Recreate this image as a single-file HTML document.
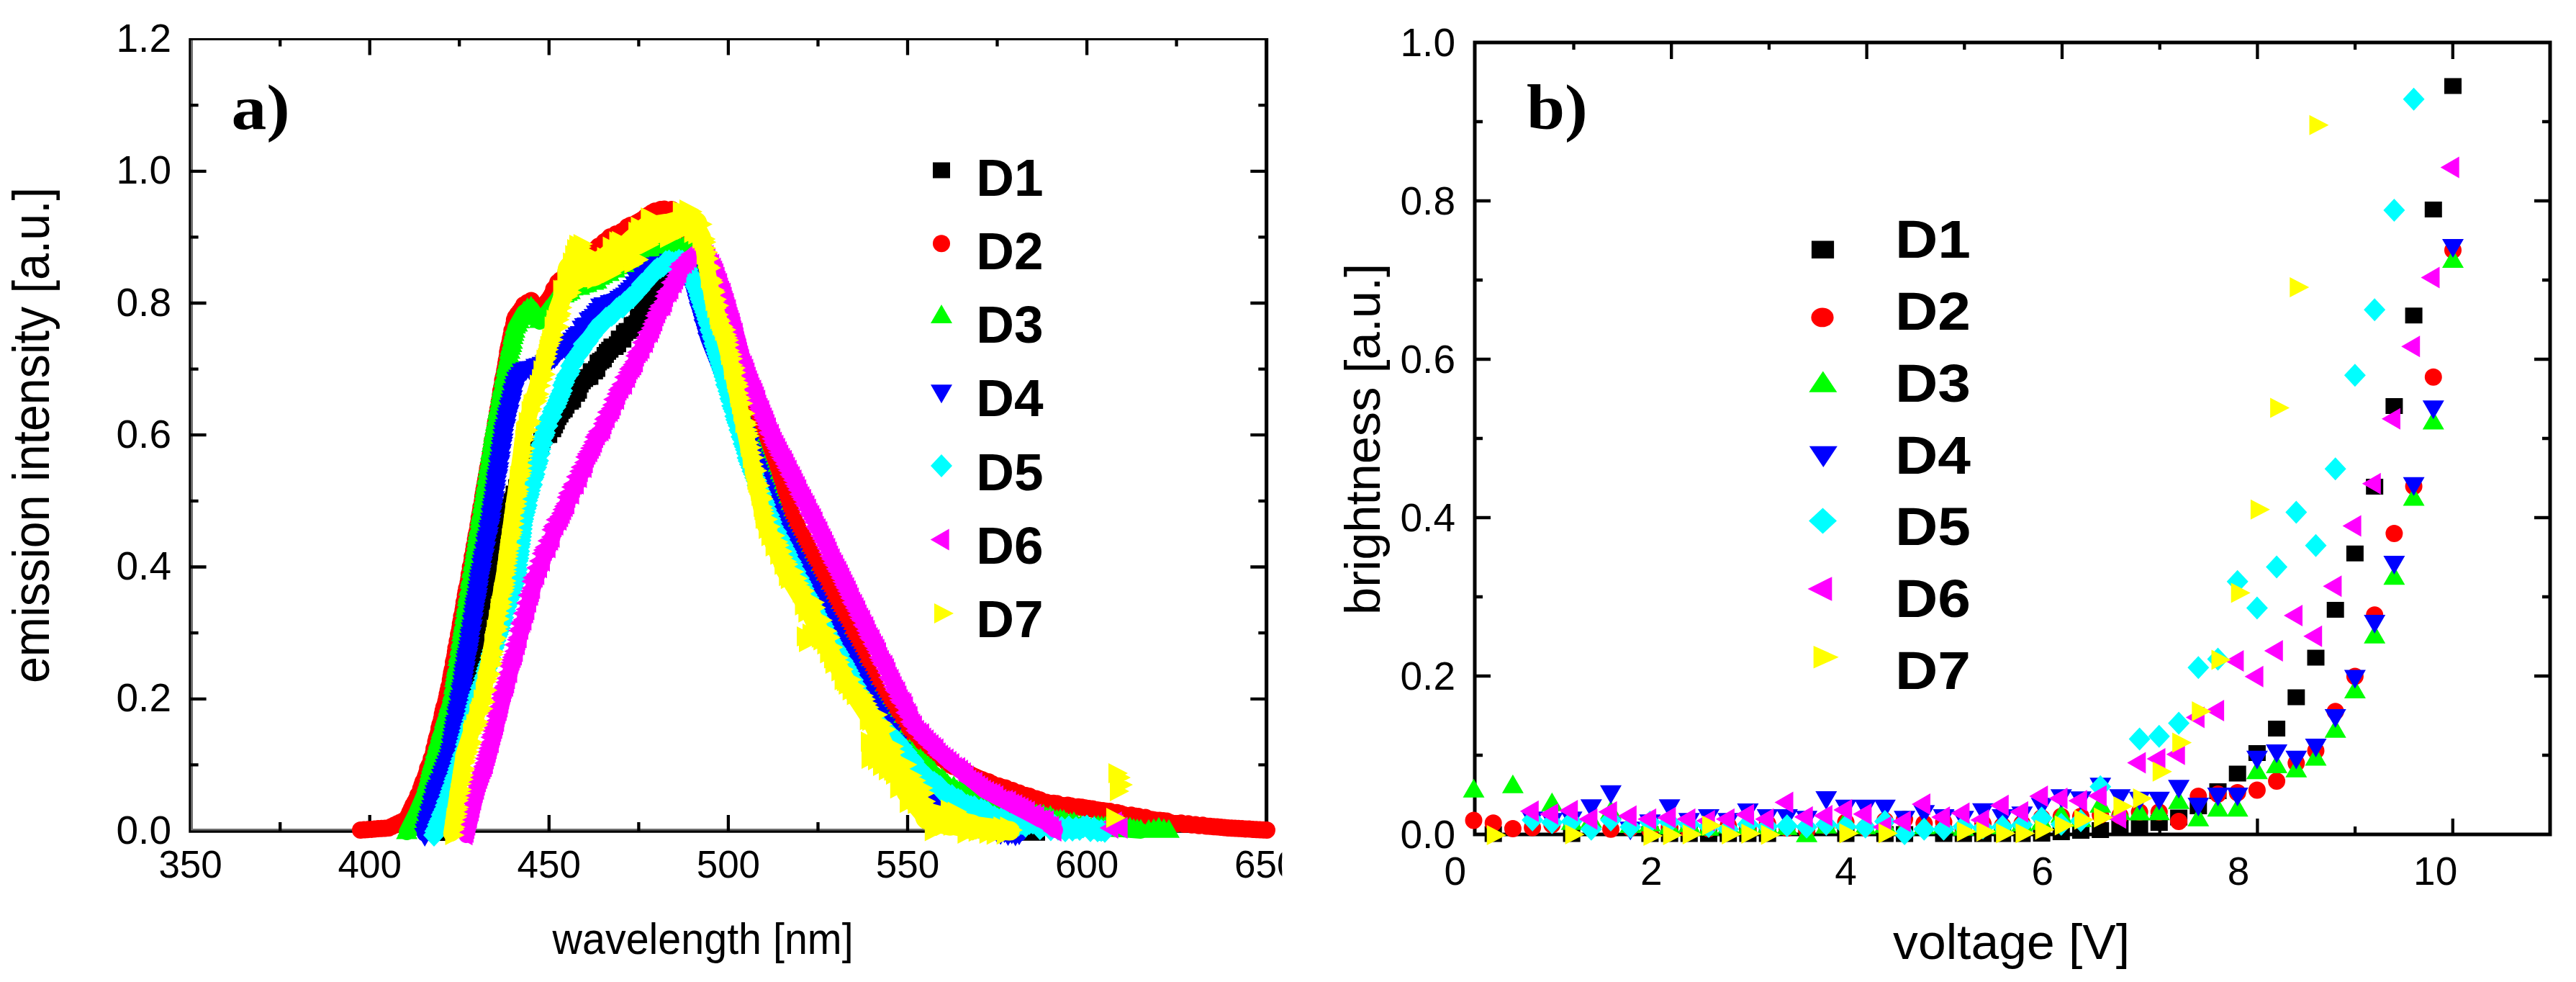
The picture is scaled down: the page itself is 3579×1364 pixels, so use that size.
<!DOCTYPE html><html><head><meta charset="utf-8"><style>html,body{margin:0;padding:0;background:#fff}svg{display:block}text{font-family:"Liberation Sans",sans-serif;fill:#000}.s{font-family:"Liberation Serif",serif;font-weight:bold}.b{font-weight:bold}</style></head><body>
<svg width="3579" height="1364" viewBox="0 0 3579 1364">
<rect width="3579" height="1364" fill="#fff"/>
<defs><clipPath id="ca"><rect x="0" y="0" width="1781.3" height="1364"/></clipPath></defs>
<g clip-path="url(#ca)">
<path d="M262.3 53.1H1762.2V1156.7H262.3zM268 56H1757V1150.9H268z" fill="#000" fill-rule="evenodd"/>
<path d="M265.1 56H268V1150.9H1757V1153.6H265.1z" fill="#707070"/>
<path d="M389.2 1154.0v-12M389.2 54.5v10M513.7 1154.0v-22M513.7 54.5v22M638.2 1154.0v-12M638.2 54.5v10M762.8 1154.0v-22M762.8 54.5v22M887.4 1154.0v-12M887.4 54.5v10M1011.9 1154.0v-22M1011.9 54.5v22M1136.5 1154.0v-12M1136.5 54.5v10M1261 1154.0v-22M1261 54.5v22M1385.5 1154.0v-12M1385.5 54.5v10M1510.1 1154.0v-22M1510.1 54.5v22M1634.6 1154.0v-12M1634.6 54.5v10M264.6 1062.4h11M1759.3 1062.4h-11M264.6 970.8h22M1759.3 970.8h-22M264.6 879.1h11M1759.3 879.1h-11M264.6 787.5h22M1759.3 787.5h-22M264.6 695.9h11M1759.3 695.9h-11M264.6 604.2h22M1759.3 604.2h-22M264.6 512.6h11M1759.3 512.6h-11M264.6 421h22M1759.3 421h-22M264.6 329.4h11M1759.3 329.4h-11M264.6 237.8h22M1759.3 237.8h-22M264.6 146.1h11M1759.3 146.1h-11" stroke="#000" stroke-width="4.3" fill="none"/>
<text x="264.6" y="1218.5" font-size="53" text-anchor="middle">350</text>
<text x="513.7" y="1218.5" font-size="53" text-anchor="middle">400</text>
<text x="762.8" y="1218.5" font-size="53" text-anchor="middle">450</text>
<text x="1011.9" y="1218.5" font-size="53" text-anchor="middle">500</text>
<text x="1261" y="1218.5" font-size="53" text-anchor="middle">550</text>
<text x="1510.1" y="1218.5" font-size="53" text-anchor="middle">600</text>
<text x="1759.2" y="1218.5" font-size="53" text-anchor="middle">650</text>
<text x="238" y="1171.5" font-size="55" text-anchor="end">0.0</text>
<text x="238" y="988.2" font-size="55" text-anchor="end">0.2</text>
<text x="238" y="805" font-size="55" text-anchor="end">0.4</text>
<text x="238" y="621.7" font-size="55" text-anchor="end">0.6</text>
<text x="238" y="438.5" font-size="55" text-anchor="end">0.8</text>
<text x="238" y="255.2" font-size="55" text-anchor="end">1.0</text>
<text x="238" y="72" font-size="55" text-anchor="end">1.2</text>
<text x="976.6" y="1325.3" font-size="62" text-anchor="middle" textLength="418" lengthAdjust="spacingAndGlyphs">wavelength [nm]</text>
<text transform="translate(67.5,604.5) rotate(-90)" font-size="72" text-anchor="middle" textLength="689" lengthAdjust="spacingAndGlyphs">emission intensity [a.u.]</text>
<text class="s" transform="translate(321.5,179) scale(1.11,1)" font-size="88">a)</text>
<polyline points="618,1156 628,1110 640,1050 650,1000 668,918 688,800 703,720 722,670 745,625 770,590 803,540 854,480 879,454 905,420 930,385 952,366 968,395 990,470 1030,565 1060,640 1088,726 1148,845 1200,945 1240,1020 1290,1100 1340,1138 1400,1152 1440,1156" fill="none" stroke="#000" stroke-width="22" stroke-linejoin="round" stroke-linecap="round"/>
<path d="M606.2 1146h24v22h-24zM607.3 1140.7h24v22h-24zM608 1133.9h24v22h-24zM609.2 1129.1h24v22h-24zM610.2 1123.6h24v22h-24zM611.5 1119.3h24v22h-24zM612.8 1114.9h24v22h-24zM613.7 1109h24v22h-24zM614.9 1104.3h24v22h-24zM615.8 1098h24v22h-24zM616.8 1093.3h24v22h-24zM618 1089.2h24v22h-24zM619 1083.8h24v22h-24zM619.9 1078.5h24v22h-24zM620.8 1073.3h24v22h-24zM622.2 1069.7h24v22h-24zM622.9 1063.7h24v22h-24zM623.9 1058.4h24v22h-24zM624.8 1053.3h24v22h-24zM625.8 1048.3h24v22h-24zM627.2 1044.9h24v22h-24zM628.2 1039.7h24v22h-24zM629.1 1034.5h24v22h-24zM629.8 1028.1h24v22h-24zM630.9 1023.8h24v22h-24zM632.2 1019.7h24v22h-24zM633.2 1014.8h24v22h-24zM634.2 1009.7h24v22h-24zM634.9 1003.7h24v22h-24zM636.1 999.3h24v22h-24zM637.1 994.3h24v22h-24zM638.1 989.6h24v22h-24zM638.9 983.3h24v22h-24zM640.2 979.9h24v22h-24zM641.4 975.3h24v22h-24zM642.3 969.9h24v22h-24zM643.1 963.9h24v22h-24zM644.5 960.9h24v22h-24zM645.4 955h24v22h-24zM646.7 951.2h24v22h-24zM647.6 946.1h24v22h-24zM648.8 941.7h24v22h-24zM649.7 936h24v22h-24zM650.8 931.7h24v22h-24zM651.6 925.6h24v22h-24zM652.6 920.6h24v22h-24zM653.7 915.8h24v22h-24zM655.1 912.4h24v22h-24zM656.1 907.2h24v22h-24zM657 902.7h24v22h-24zM657.9 898.1h24v22h-24zM658.7 893.2h24v22h-24zM659.5 888.1h24v22h-24zM660.4 883.2h24v22h-24zM661.2 878.5h24v22h-24zM661.8 872.4h24v22h-24zM662.6 867.3h24v22h-24zM663.5 862.7h24v22h-24zM664.2 857.4h24v22h-24zM665.1 852.6h24v22h-24zM666.2 848.7h24v22h-24zM667.1 844.1h24v22h-24zM667.5 837.5h24v22h-24zM668.6 833.8h24v22h-24zM669.4 828.6h24v22h-24zM670.2 823.6h24v22h-24zM670.8 817.5h24v22h-24zM671.9 813.9h24v22h-24zM672.8 809.4h24v22h-24zM673.5 803.7h24v22h-24zM674.2 798.1h24v22h-24zM675.4 794.7h24v22h-24zM675.8 788.1h24v22h-24zM677 784.3h24v22h-24zM678.1 780.1h24v22h-24zM679 774.8h24v22h-24zM679.5 767.9h24v22h-24zM680.9 764.8h24v22h-24zM681.7 759.3h24v22h-24zM682.3 752.8h24v22h-24zM683.7 750h24v22h-24zM684.2 742.9h24v22h-24zM685 737.4h24v22h-24zM686.4 734.5h24v22h-24zM686.9 727.5h24v22h-24zM688.6 725.8h24v22h-24zM688.8 717.5h24v22h-24zM690.4 715.3h24v22h-24zM690.7 707.9h24v22h-24zM692.4 703h24v22h-24zM694.8 701.6h24v22h-24zM695.7 693.4h24v22h-24zM698.4 692.8h24v22h-24zM699.4 685.3h24v22h-24zM701.7 683.1h24v22h-24zM702.5 674.6h24v22h-24zM705.2 674.4h24v22h-24zM706 665.8h24v22h-24zM708.7 665.3h24v22h-24zM710.6 661.9h24v22h-24zM712.4 655.2h24v22h-24zM714.3 648.8h24v22h-24zM716.6 643.9h24v22h-24zM719.7 643.3h24v22h-24zM721.1 634.6h24v22h-24zM724.4 634.6h24v22h-24zM725.5 624.8h24v22h-24zM727.8 620.2h24v22h-24zM730.3 616.6h24v22h-24zM732.6 612.2h24v22h-24zM735.9 610.8h24v22h-24zM738.9 608.1h24v22h-24zM740.8 599.9h24v22h-24zM743.5 595.5h24v22h-24zM746.7 593.6h24v22h-24zM750.2 593.3h24v22h-24zM752 584.5h24v22h-24zM755.7 585.2h24v22h-24zM758.2 580h24v22h-24zM760.7 574.5h24v22h-24zM763.1 568.6h24v22h-24zM765.9 564.7h24v22h-24zM768.4 559.7h24v22h-24zM771.7 557.8h24v22h-24zM774.2 552.6h24v22h-24zM776.7 547.3h24v22h-24zM780.3 547h24v22h-24zM783.3 544.2h24v22h-24zM784.9 534.5h24v22h-24zM788.8 536h24v22h-24zM791.5 531.7h24v22h-24zM793.8 523.2h24v22h-24zM796.8 518.7h24v22h-24zM800.1 515.5h24v22h-24zM803.6 513h24v22h-24zM807.4 512.5h24v22h-24zM809.7 504.4h24v22h-24zM813.8 505.1h24v22h-24zM817 501.6h24v22h-24zM819.2 492.5h24v22h-24zM822.6 490.2h24v22h-24zM826.1 488.2h24v22h-24zM828.9 482h24v22h-24zM832 477.7h24v22h-24zM835.3 474.7h24v22h-24zM838.4 470.3h24v22h-24zM842.4 471h24v22h-24zM845.9 467.3h24v22h-24zM848.7 459.2h24v22h-24zM853.2 460.7h24v22h-24zM855.8 451.4h24v22h-24zM859.5 448.7h24v22h-24zM863.8 448.6h24v22h-24zM866.5 440.6h24v22h-24zM870 439.8h24v22h-24zM873.3 438h24v22h-24zM875.1 428.8h24v22h-24zM878.7 428.8h24v22h-24zM880.9 421.2h24v22h-24zM883.8 417.8h24v22h-24zM886.9 414.8h24v22h-24zM890.3 413.8h24v22h-24zM892.8 408h24v22h-24zM896.4 408.1h24v22h-24zM898.9 402.8h24v22h-24zM901 395.7h24v22h-24zM903.6 391h24v22h-24zM906.6 388h24v22h-24zM910 387.5h24v22h-24zM912.1 380.1h24v22h-24zM915.6 379.9h24v22h-24zM917.9 373.2h24v22h-24zM921.2 368h24v22h-24zM925.2 367.1h24v22h-24zM929.1 364.9h24v22h-24zM932.5 360.3h24v22h-24zM936 356.2h24v22h-24zM939.7 356.2h24v22h-24zM941.9 360.8h24v22h-24zM944.8 362.4h24v22h-24zM947.1 366.2h24v22h-24zM949.3 370.7h24v22h-24zM951.8 374.2h24v22h-24zM953.6 380.3h24v22h-24zM956.1 383.6h24v22h-24zM957.7 387.4h24v22h-24zM958.3 395.4h24v22h-24zM959.7 400h24v22h-24zM961.1 404.3h24v22h-24zM963.2 406.1h24v22h-24zM964.7 410.2h24v22h-24zM965.8 415.9h24v22h-24zM967.2 420.7h24v22h-24zM968 427.7h24v22h-24zM970 429.9h24v22h-24zM971.3 434.6h24v22h-24zM973 438.3h24v22h-24zM973.9 444.8h24v22h-24zM975.6 448.3h24v22h-24zM977.1 452.4h24v22h-24zM978.4 457.4h24v22h-24zM979.5 465.1h24v22h-24zM981.4 470h24v22h-24zM983.3 474.2h24v22h-24zM985.9 476h24v22h-24zM987.8 480.5h24v22h-24zM989 488.1h24v22h-24zM991.4 490.5h24v22h-24zM993 496.4h24v22h-24zM995.2 499.3h24v22h-24zM996.6 506.1h24v22h-24zM998.6 510.2h24v22h-24zM1000.8 513.6h24v22h-24zM1002.9 517.1h24v22h-24zM1004.7 522.4h24v22h-24zM1006.1 528.8h24v22h-24zM1008.3 532.2h24v22h-24zM1010.2 536.7h24v22h-24zM1012.3 540.4h24v22h-24zM1014.1 545.4h24v22h-24zM1015.8 550.8h24v22h-24zM1018.2 553.1h24v22h-24zM1020 558.2h24v22h-24zM1021.9 562.8h24v22h-24zM1023.9 566.9h24v22h-24zM1025.3 573.7h24v22h-24zM1027.5 577h24v22h-24zM1029.6 580.6h24v22h-24zM1030.7 588.5h24v22h-24zM1032.9 592.1h24v22h-24zM1034.9 595.9h24v22h-24zM1036.4 602.5h24v22h-24zM1039.1 603.7h24v22h-24zM1040.9 608.5h24v22h-24zM1042.5 614.5h24v22h-24zM1044.4 619h24v22h-24zM1045.7 626.3h24v22h-24zM1047.6 630.8h24v22h-24zM1049.9 632.3h24v22h-24zM1051.4 637.3h24v22h-24zM1053 642.1h24v22h-24zM1054.6 646.4h24v22h-24zM1056.1 651.3h24v22h-24zM1057.7 656h24v22h-24zM1058.7 663.3h24v22h-24zM1060.9 665.4h24v22h-24zM1062.4 670.3h24v22h-24zM1063.8 675.9h24v22h-24zM1064.8 682.9h24v22h-24zM1066.6 686.8h24v22h-24zM1067.8 692.8h24v22h-24zM1069.9 695.5h24v22h-24zM1071.6 699.6h24v22h-24zM1072.5 706.9h24v22h-24zM1074.5 710.1h24v22h-24zM1076.3 713.7h24v22h-24zM1078.6 717.8h24v22h-24zM1080.2 724.8h24v22h-24zM1082.4 729.5h24v22h-24zM1084.5 734.3h24v22h-24zM1087.3 736h24v22h-24zM1089.8 739.5h24v22h-24zM1091.8 744.9h24v22h-24zM1094.2 748.5h24v22h-24zM1095.6 756.7h24v22h-24zM1098 759.9h24v22h-24zM1100.5 763.1h24v22h-24zM1102.8 767.3h24v22h-24zM1104.5 774.2h24v22h-24zM1107.4 775.2h24v22h-24zM1108.9 783h24v22h-24zM1111.4 786.3h24v22h-24zM1113.5 791.1h24v22h-24zM1116 794.3h24v22h-24zM1117.9 800.3h24v22h-24zM1120.2 804.1h24v22h-24zM1122.9 806.4h24v22h-24zM1124.7 813h24v22h-24zM1127.1 816.4h24v22h-24zM1128.9 822.6h24v22h-24zM1132 823.3h24v22h-24zM1134.1 828h24v22h-24zM1135.8 834.9h24v22h-24zM1138.5 837.2h24v22h-24zM1140.8 841.6h24v22h-24zM1142.4 848.7h24v22h-24zM1145.3 850.5h24v22h-24zM1147.7 853.9h24v22h-24zM1149.2 861.6h24v22h-24zM1152 863.6h24v22h-24zM1153.8 870h24v22h-24zM1156.2 873.9h24v22h-24zM1158.2 879.2h24v22h-24zM1160.5 883.7h24v22h-24zM1162.7 888.1h24v22h-24zM1165.8 888.9h24v22h-24zM1168.1 893h24v22h-24zM1169.6 900.5h24v22h-24zM1172.5 902h24v22h-24zM1174.1 909.2h24v22h-24zM1176.8 911.6h24v22h-24zM1178.7 917.7h24v22h-24zM1181 921.8h24v22h-24zM1183.2 926.5h24v22h-24zM1186 928.7h24v22h-24zM1187.9 934.6h24v22h-24zM1190.4 938h24v22h-24zM1192.4 944.3h24v22h-24zM1194.6 949.3h24v22h-24zM1197.1 953h24v22h-24zM1200 955.1h24v22h-24zM1202.4 959.2h24v22h-24zM1204.7 963.7h24v22h-24zM1206.6 970.4h24v22h-24zM1209.7 971.4h24v22h-24zM1211.2 979.6h24v22h-24zM1214.2 981.1h24v22h-24zM1215.7 989.2h24v22h-24zM1218.3 992.6h24v22h-24zM1220.8 996.6h24v22h-24zM1223.4 999.5h24v22h-24zM1226 1002.9h24v22h-24zM1227.6 1010.8h24v22h-24zM1230.1 1015.9h24v22h-24zM1233.4 1016.6h24v22h-24zM1235.4 1024.1h24v22h-24zM1237.9 1028.8h24v22h-24zM1241.2 1030.1h24v22h-24zM1243.2 1037.1h24v22h-24zM1245.8 1041.4h24v22h-24zM1249.6 1040.1h24v22h-24zM1251.9 1045.9h24v22h-24zM1254.9 1048.2h24v22h-24zM1256.8 1056h24v22h-24zM1259.6 1059.5h24v22h-24zM1262.5 1062.5h24v22h-24zM1265.3 1065.6h24v22h-24zM1266.9 1075.1h24v22h-24zM1269.7 1078.4h24v22h-24zM1272.2 1083h24v22h-24zM1275.5 1084h24v22h-24zM1277.7 1091h24v22h-24zM1282.1 1090.2h24v22h-24zM1286.1 1092.2h24v22h-24zM1289.6 1097.6h24v22h-24zM1292.9 1103.7h24v22h-24zM1296.8 1106.5h24v22h-24zM1301.4 1104.6h24v22h-24zM1305.2 1107.4h24v22h-24zM1309.2 1109.5h24v22h-24zM1312.5 1115.8h24v22h-24zM1316.8 1116.3h24v22h-24zM1320.2 1121.8h24v22h-24zM1324.5 1121.7h24v22h-24zM1327.9 1128.2h24v22h-24zM1333.1 1125.8h24v22h-24zM1337.9 1130.9h24v22h-24zM1342.9 1131.5h24v22h-24zM1347.9 1133.9h24v22h-24zM1353.1 1131.8h24v22h-24zM1358.1 1132.8h24v22h-24zM1363.1 1134.2h24v22h-24zM1368.1 1135.3h24v22h-24zM1373 1138.1h24v22h-24zM1377.9 1140.3h24v22h-24zM1383.1 1138.5h24v22h-24zM1388 1139.1h24v22h-24zM1393 1139.6h24v22h-24zM1398 1141.2h24v22h-24zM1403 1141.3h24v22h-24zM1408 1142.3h24v22h-24zM1413 1145.4h24v22h-24zM1418 1145.7h24v22h-24zM1423 1142.6h24v22h-24zM1428 1145.7h24v22h-24z" fill="#000"/>
<polyline points="501,1153 540,1150 565,1138 583,1100 601,1050 625,950 666,720 707,480 716,440 728,424 738,418 750,439 772,398 800,368 848,331 880,311 898,301 918,290.5 933,292 946,301 958,330 971,400 1012,500 1050,600 1078,660 1105,726 1168,845 1222,966 1270,1020 1320,1062 1378,1089 1454,1115 1542,1128 1631,1143 1706,1150 1760,1153" fill="none" stroke="#f00" stroke-width="22" stroke-linejoin="round" stroke-linecap="round"/>
<path d="M489 1153a12 12 0 1 0 24 0a12 12 0 1 0 -24 0zM493.9 1152.6a12 12 0 1 0 24 0a12 12 0 1 0 -24 0zM498.8 1152.2a12 12 0 1 0 24 0a12 12 0 1 0 -24 0zM503.6 1151.9a12 12 0 1 0 24 0a12 12 0 1 0 -24 0zM508.5 1151.5a12 12 0 1 0 24 0a12 12 0 1 0 -24 0zM513.4 1151.1a12 12 0 1 0 24 0a12 12 0 1 0 -24 0zM518.2 1150.8a12 12 0 1 0 24 0a12 12 0 1 0 -24 0zM523.1 1150.4a12 12 0 1 0 24 0a12 12 0 1 0 -24 0zM528 1150a12 12 0 1 0 24 0a12 12 0 1 0 -24 0zM532.2 1148a12 12 0 1 0 24 0a12 12 0 1 0 -24 0zM536.3 1146a12 12 0 1 0 24 0a12 12 0 1 0 -24 0zM540.5 1144a12 12 0 1 0 24 0a12 12 0 1 0 -24 0zM544.7 1142a12 12 0 1 0 24 0a12 12 0 1 0 -24 0zM548.8 1140a12 12 0 1 0 24 0a12 12 0 1 0 -24 0zM553 1138a12 12 0 1 0 24 0a12 12 0 1 0 -24 0zM555.3 1133.3a12 12 0 1 0 24 0a12 12 0 1 0 -24 0zM557.5 1128.3a12 12 0 1 0 24 0a12 12 0 1 0 -24 0zM559.7 1123.6a12 12 0 1 0 24 0a12 12 0 1 0 -24 0zM561.9 1118.5a12 12 0 1 0 24 0a12 12 0 1 0 -24 0zM564.3 1114.6a12 12 0 1 0 24 0a12 12 0 1 0 -24 0zM566.7 1110.2a12 12 0 1 0 24 0a12 12 0 1 0 -24 0zM568.7 1104.4a12 12 0 1 0 24 0a12 12 0 1 0 -24 0zM571.2 1101a12 12 0 1 0 24 0a12 12 0 1 0 -24 0zM572.6 1095.5a12 12 0 1 0 24 0a12 12 0 1 0 -24 0zM574.2 1090.8a12 12 0 1 0 24 0a12 12 0 1 0 -24 0zM575.8 1086.1a12 12 0 1 0 24 0a12 12 0 1 0 -24 0zM577.8 1082.8a12 12 0 1 0 24 0a12 12 0 1 0 -24 0zM579.4 1078.1a12 12 0 1 0 24 0a12 12 0 1 0 -24 0zM581 1073.6a12 12 0 1 0 24 0a12 12 0 1 0 -24 0zM582.2 1067.2a12 12 0 1 0 24 0a12 12 0 1 0 -24 0zM584.1 1063.6a12 12 0 1 0 24 0a12 12 0 1 0 -24 0zM585.9 1060a12 12 0 1 0 24 0a12 12 0 1 0 -24 0zM587.2 1053.8a12 12 0 1 0 24 0a12 12 0 1 0 -24 0zM589.2 1050.9a12 12 0 1 0 24 0a12 12 0 1 0 -24 0zM590.3 1045.8a12 12 0 1 0 24 0a12 12 0 1 0 -24 0zM591.1 1039.8a12 12 0 1 0 24 0a12 12 0 1 0 -24 0zM592.6 1036.6a12 12 0 1 0 24 0a12 12 0 1 0 -24 0zM593.4 1030.4a12 12 0 1 0 24 0a12 12 0 1 0 -24 0zM594.6 1025.5a12 12 0 1 0 24 0a12 12 0 1 0 -24 0zM595.9 1021.8a12 12 0 1 0 24 0a12 12 0 1 0 -24 0zM597.2 1017.6a12 12 0 1 0 24 0a12 12 0 1 0 -24 0zM598 1011.5a12 12 0 1 0 24 0a12 12 0 1 0 -24 0zM599.2 1006.8a12 12 0 1 0 24 0a12 12 0 1 0 -24 0zM600.6 1003a12 12 0 1 0 24 0a12 12 0 1 0 -24 0zM601.7 998a12 12 0 1 0 24 0a12 12 0 1 0 -24 0zM602.6 992.3a12 12 0 1 0 24 0a12 12 0 1 0 -24 0zM603.7 987.3a12 12 0 1 0 24 0a12 12 0 1 0 -24 0zM604.8 982.5a12 12 0 1 0 24 0a12 12 0 1 0 -24 0zM606.3 979.1a12 12 0 1 0 24 0a12 12 0 1 0 -24 0zM607.4 974.4a12 12 0 1 0 24 0a12 12 0 1 0 -24 0zM608.5 969.4a12 12 0 1 0 24 0a12 12 0 1 0 -24 0zM609.5 963.9a12 12 0 1 0 24 0a12 12 0 1 0 -24 0zM610.6 959.2a12 12 0 1 0 24 0a12 12 0 1 0 -24 0zM611.7 954.3a12 12 0 1 0 24 0a12 12 0 1 0 -24 0zM613.1 950.4a12 12 0 1 0 24 0a12 12 0 1 0 -24 0zM613.7 944.4a12 12 0 1 0 24 0a12 12 0 1 0 -24 0zM614.6 939.4a12 12 0 1 0 24 0a12 12 0 1 0 -24 0zM615.4 934.5a12 12 0 1 0 24 0a12 12 0 1 0 -24 0zM616.4 930.2a12 12 0 1 0 24 0a12 12 0 1 0 -24 0zM617.6 926.5a12 12 0 1 0 24 0a12 12 0 1 0 -24 0zM618 919.7a12 12 0 1 0 24 0a12 12 0 1 0 -24 0zM619.1 915.9a12 12 0 1 0 24 0a12 12 0 1 0 -24 0zM620.1 911.3a12 12 0 1 0 24 0a12 12 0 1 0 -24 0zM620.8 905.6a12 12 0 1 0 24 0a12 12 0 1 0 -24 0zM621.5 900.1a12 12 0 1 0 24 0a12 12 0 1 0 -24 0zM622.8 896.8a12 12 0 1 0 24 0a12 12 0 1 0 -24 0zM623.3 890.7a12 12 0 1 0 24 0a12 12 0 1 0 -24 0zM624.6 887.2a12 12 0 1 0 24 0a12 12 0 1 0 -24 0zM625.1 881.2a12 12 0 1 0 24 0a12 12 0 1 0 -24 0zM626.2 877a12 12 0 1 0 24 0a12 12 0 1 0 -24 0zM627.1 872.2a12 12 0 1 0 24 0a12 12 0 1 0 -24 0zM627.7 866.4a12 12 0 1 0 24 0a12 12 0 1 0 -24 0zM628.7 862.1a12 12 0 1 0 24 0a12 12 0 1 0 -24 0zM629.4 856.1a12 12 0 1 0 24 0a12 12 0 1 0 -24 0zM630.6 852.7a12 12 0 1 0 24 0a12 12 0 1 0 -24 0zM631.4 847.6a12 12 0 1 0 24 0a12 12 0 1 0 -24 0zM632.2 842.6a12 12 0 1 0 24 0a12 12 0 1 0 -24 0zM632.8 836.6a12 12 0 1 0 24 0a12 12 0 1 0 -24 0zM634 832.7a12 12 0 1 0 24 0a12 12 0 1 0 -24 0zM634.6 826.8a12 12 0 1 0 24 0a12 12 0 1 0 -24 0zM635.5 822a12 12 0 1 0 24 0a12 12 0 1 0 -24 0zM636.4 817.1a12 12 0 1 0 24 0a12 12 0 1 0 -24 0zM637.6 813.8a12 12 0 1 0 24 0a12 12 0 1 0 -24 0zM638.5 809.1a12 12 0 1 0 24 0a12 12 0 1 0 -24 0zM639.3 803.8a12 12 0 1 0 24 0a12 12 0 1 0 -24 0zM639.9 797.8a12 12 0 1 0 24 0a12 12 0 1 0 -24 0zM641.1 794a12 12 0 1 0 24 0a12 12 0 1 0 -24 0zM641.6 787.6a12 12 0 1 0 24 0a12 12 0 1 0 -24 0zM642.8 784.4a12 12 0 1 0 24 0a12 12 0 1 0 -24 0zM643.7 779.5a12 12 0 1 0 24 0a12 12 0 1 0 -24 0zM644.2 772.9a12 12 0 1 0 24 0a12 12 0 1 0 -24 0zM645.5 769.9a12 12 0 1 0 24 0a12 12 0 1 0 -24 0zM646.2 764.3a12 12 0 1 0 24 0a12 12 0 1 0 -24 0zM646.9 758.6a12 12 0 1 0 24 0a12 12 0 1 0 -24 0zM648 754.9a12 12 0 1 0 24 0a12 12 0 1 0 -24 0zM648.7 749.1a12 12 0 1 0 24 0a12 12 0 1 0 -24 0zM649.5 743.8a12 12 0 1 0 24 0a12 12 0 1 0 -24 0zM650.6 739.8a12 12 0 1 0 24 0a12 12 0 1 0 -24 0zM651.6 735.5a12 12 0 1 0 24 0a12 12 0 1 0 -24 0zM652.2 729.5a12 12 0 1 0 24 0a12 12 0 1 0 -24 0zM653.2 725.2a12 12 0 1 0 24 0a12 12 0 1 0 -24 0zM653.8 719a12 12 0 1 0 24 0a12 12 0 1 0 -24 0zM654.7 714.5a12 12 0 1 0 24 0a12 12 0 1 0 -24 0zM655.6 709.7a12 12 0 1 0 24 0a12 12 0 1 0 -24 0zM656.3 704.3a12 12 0 1 0 24 0a12 12 0 1 0 -24 0zM657.5 700.9a12 12 0 1 0 24 0a12 12 0 1 0 -24 0zM658.2 695.7a12 12 0 1 0 24 0a12 12 0 1 0 -24 0zM658.8 689.8a12 12 0 1 0 24 0a12 12 0 1 0 -24 0zM659.7 685a12 12 0 1 0 24 0a12 12 0 1 0 -24 0zM660.5 679.9a12 12 0 1 0 24 0a12 12 0 1 0 -24 0zM661.4 675.2a12 12 0 1 0 24 0a12 12 0 1 0 -24 0zM662.2 670.4a12 12 0 1 0 24 0a12 12 0 1 0 -24 0zM663.1 665.6a12 12 0 1 0 24 0a12 12 0 1 0 -24 0zM664 660.9a12 12 0 1 0 24 0a12 12 0 1 0 -24 0zM664.8 656.2a12 12 0 1 0 24 0a12 12 0 1 0 -24 0zM665.5 650.6a12 12 0 1 0 24 0a12 12 0 1 0 -24 0zM666.6 646.8a12 12 0 1 0 24 0a12 12 0 1 0 -24 0zM667.6 642.3a12 12 0 1 0 24 0a12 12 0 1 0 -24 0zM668.4 637.5a12 12 0 1 0 24 0a12 12 0 1 0 -24 0zM669.2 632.6a12 12 0 1 0 24 0a12 12 0 1 0 -24 0zM670 627.5a12 12 0 1 0 24 0a12 12 0 1 0 -24 0zM670.9 622.7a12 12 0 1 0 24 0a12 12 0 1 0 -24 0zM671.7 617.5a12 12 0 1 0 24 0a12 12 0 1 0 -24 0zM672.2 611.5a12 12 0 1 0 24 0a12 12 0 1 0 -24 0zM673.4 608a12 12 0 1 0 24 0a12 12 0 1 0 -24 0zM674.3 603.3a12 12 0 1 0 24 0a12 12 0 1 0 -24 0zM675.1 598.4a12 12 0 1 0 24 0a12 12 0 1 0 -24 0zM675.9 593.2a12 12 0 1 0 24 0a12 12 0 1 0 -24 0zM676.5 587.5a12 12 0 1 0 24 0a12 12 0 1 0 -24 0zM677.6 583.4a12 12 0 1 0 24 0a12 12 0 1 0 -24 0zM678.4 578.6a12 12 0 1 0 24 0a12 12 0 1 0 -24 0zM679.1 572.9a12 12 0 1 0 24 0a12 12 0 1 0 -24 0zM679.9 567.9a12 12 0 1 0 24 0a12 12 0 1 0 -24 0zM681 564.1a12 12 0 1 0 24 0a12 12 0 1 0 -24 0zM681.6 558.2a12 12 0 1 0 24 0a12 12 0 1 0 -24 0zM682.6 554.2a12 12 0 1 0 24 0a12 12 0 1 0 -24 0zM683.3 548.5a12 12 0 1 0 24 0a12 12 0 1 0 -24 0zM683.9 542.7a12 12 0 1 0 24 0a12 12 0 1 0 -24 0zM684.9 538.4a12 12 0 1 0 24 0a12 12 0 1 0 -24 0zM685.9 534.4a12 12 0 1 0 24 0a12 12 0 1 0 -24 0zM686.4 528.2a12 12 0 1 0 24 0a12 12 0 1 0 -24 0zM687.4 523.9a12 12 0 1 0 24 0a12 12 0 1 0 -24 0zM688.5 519.9a12 12 0 1 0 24 0a12 12 0 1 0 -24 0zM689.2 514.6a12 12 0 1 0 24 0a12 12 0 1 0 -24 0zM690.2 510.3a12 12 0 1 0 24 0a12 12 0 1 0 -24 0zM690.9 504.8a12 12 0 1 0 24 0a12 12 0 1 0 -24 0zM691.7 500a12 12 0 1 0 24 0a12 12 0 1 0 -24 0zM692.7 495.4a12 12 0 1 0 24 0a12 12 0 1 0 -24 0zM693.2 489.3a12 12 0 1 0 24 0a12 12 0 1 0 -24 0zM694.1 484.5a12 12 0 1 0 24 0a12 12 0 1 0 -24 0zM695.1 480.3a12 12 0 1 0 24 0a12 12 0 1 0 -24 0zM696.3 475.8a12 12 0 1 0 24 0a12 12 0 1 0 -24 0zM697.3 470.3a12 12 0 1 0 24 0a12 12 0 1 0 -24 0zM698.4 465.3a12 12 0 1 0 24 0a12 12 0 1 0 -24 0zM699.3 459.2a12 12 0 1 0 24 0a12 12 0 1 0 -24 0zM700.9 456a12 12 0 1 0 24 0a12 12 0 1 0 -24 0zM701.9 450.7a12 12 0 1 0 24 0a12 12 0 1 0 -24 0zM702.8 444.6a12 12 0 1 0 24 0a12 12 0 1 0 -24 0zM704.2 440.8a12 12 0 1 0 24 0a12 12 0 1 0 -24 0zM707.1 436.5a12 12 0 1 0 24 0a12 12 0 1 0 -24 0zM710.1 432.7a12 12 0 1 0 24 0a12 12 0 1 0 -24 0zM713.1 428.5a12 12 0 1 0 24 0a12 12 0 1 0 -24 0zM715.9 423.4a12 12 0 1 0 24 0a12 12 0 1 0 -24 0zM720.9 420.3a12 12 0 1 0 24 0a12 12 0 1 0 -24 0zM726.1 417.5a12 12 0 1 0 24 0a12 12 0 1 0 -24 0zM728.3 422.7a12 12 0 1 0 24 0a12 12 0 1 0 -24 0zM730.6 427.2a12 12 0 1 0 24 0a12 12 0 1 0 -24 0zM733.3 430.2a12 12 0 1 0 24 0a12 12 0 1 0 -24 0zM735.4 435.5a12 12 0 1 0 24 0a12 12 0 1 0 -24 0zM738.1 439.6a12 12 0 1 0 24 0a12 12 0 1 0 -24 0zM740.7 435.5a12 12 0 1 0 24 0a12 12 0 1 0 -24 0zM742.7 429.1a12 12 0 1 0 24 0a12 12 0 1 0 -24 0zM745.3 425.2a12 12 0 1 0 24 0a12 12 0 1 0 -24 0zM747.6 419.7a12 12 0 1 0 24 0a12 12 0 1 0 -24 0zM750.3 416.6a12 12 0 1 0 24 0a12 12 0 1 0 -24 0zM752.9 412.8a12 12 0 1 0 24 0a12 12 0 1 0 -24 0zM755.4 408.4a12 12 0 1 0 24 0a12 12 0 1 0 -24 0zM757.4 401.8a12 12 0 1 0 24 0a12 12 0 1 0 -24 0zM760.1 398.7a12 12 0 1 0 24 0a12 12 0 1 0 -24 0zM763.1 392.3a12 12 0 1 0 24 0a12 12 0 1 0 -24 0zM766.7 388.9a12 12 0 1 0 24 0a12 12 0 1 0 -24 0zM770.6 387.2a12 12 0 1 0 24 0a12 12 0 1 0 -24 0zM773.7 381.2a12 12 0 1 0 24 0a12 12 0 1 0 -24 0zM777.7 380.4a12 12 0 1 0 24 0a12 12 0 1 0 -24 0zM781.4 377.5a12 12 0 1 0 24 0a12 12 0 1 0 -24 0zM784.2 370.2a12 12 0 1 0 24 0a12 12 0 1 0 -24 0zM788.2 369.5a12 12 0 1 0 24 0a12 12 0 1 0 -24 0zM792.2 366.4a12 12 0 1 0 24 0a12 12 0 1 0 -24 0zM796.1 362.7a12 12 0 1 0 24 0a12 12 0 1 0 -24 0zM800 358.4a12 12 0 1 0 24 0a12 12 0 1 0 -24 0zM803.8 354.5a12 12 0 1 0 24 0a12 12 0 1 0 -24 0zM807.9 351.9a12 12 0 1 0 24 0a12 12 0 1 0 -24 0zM812 349.4a12 12 0 1 0 24 0a12 12 0 1 0 -24 0zM815.9 345.8a12 12 0 1 0 24 0a12 12 0 1 0 -24 0zM819.8 342a12 12 0 1 0 24 0a12 12 0 1 0 -24 0zM824.3 342a12 12 0 1 0 24 0a12 12 0 1 0 -24 0zM827.8 335.8a12 12 0 1 0 24 0a12 12 0 1 0 -24 0zM831.9 333.1a12 12 0 1 0 24 0a12 12 0 1 0 -24 0zM835.7 329a12 12 0 1 0 24 0a12 12 0 1 0 -24 0zM840.2 330.1a12 12 0 1 0 24 0a12 12 0 1 0 -24 0zM843.9 324.9a12 12 0 1 0 24 0a12 12 0 1 0 -24 0zM848.2 325.2a12 12 0 1 0 24 0a12 12 0 1 0 -24 0zM852.1 321.4a12 12 0 1 0 24 0a12 12 0 1 0 -24 0zM856.1 319.2a12 12 0 1 0 24 0a12 12 0 1 0 -24 0zM859.9 315.1a12 12 0 1 0 24 0a12 12 0 1 0 -24 0zM863.9 312.9a12 12 0 1 0 24 0a12 12 0 1 0 -24 0zM868.2 312.6a12 12 0 1 0 24 0a12 12 0 1 0 -24 0zM872.7 310a12 12 0 1 0 24 0a12 12 0 1 0 -24 0zM877.2 307.6a12 12 0 1 0 24 0a12 12 0 1 0 -24 0zM881.6 304.5a12 12 0 1 0 24 0a12 12 0 1 0 -24 0zM885.9 300.5a12 12 0 1 0 24 0a12 12 0 1 0 -24 0zM889.9 298.3a12 12 0 1 0 24 0a12 12 0 1 0 -24 0zM893.8 295.4a12 12 0 1 0 24 0a12 12 0 1 0 -24 0zM897.8 293.3a12 12 0 1 0 24 0a12 12 0 1 0 -24 0zM902.1 293a12 12 0 1 0 24 0a12 12 0 1 0 -24 0zM906 291a12 12 0 1 0 24 0a12 12 0 1 0 -24 0zM911 290.4a12 12 0 1 0 24 0a12 12 0 1 0 -24 0zM916 292.1a12 12 0 1 0 24 0a12 12 0 1 0 -24 0zM921.1 291.1a12 12 0 1 0 24 0a12 12 0 1 0 -24 0zM925.2 296a12 12 0 1 0 24 0a12 12 0 1 0 -24 0zM929.8 297.3a12 12 0 1 0 24 0a12 12 0 1 0 -24 0zM933.8 301.9a12 12 0 1 0 24 0a12 12 0 1 0 -24 0zM935.8 306.6a12 12 0 1 0 24 0a12 12 0 1 0 -24 0zM938.2 310a12 12 0 1 0 24 0a12 12 0 1 0 -24 0zM940.1 315.2a12 12 0 1 0 24 0a12 12 0 1 0 -24 0zM942.1 320.1a12 12 0 1 0 24 0a12 12 0 1 0 -24 0zM944.1 324.6a12 12 0 1 0 24 0a12 12 0 1 0 -24 0zM946.2 329.2a12 12 0 1 0 24 0a12 12 0 1 0 -24 0zM947 334.9a12 12 0 1 0 24 0a12 12 0 1 0 -24 0zM948.1 339.2a12 12 0 1 0 24 0a12 12 0 1 0 -24 0zM948.8 344.8a12 12 0 1 0 24 0a12 12 0 1 0 -24 0zM949.6 350.4a12 12 0 1 0 24 0a12 12 0 1 0 -24 0zM950.9 354.1a12 12 0 1 0 24 0a12 12 0 1 0 -24 0zM951.5 360.3a12 12 0 1 0 24 0a12 12 0 1 0 -24 0zM952.6 364.6a12 12 0 1 0 24 0a12 12 0 1 0 -24 0zM953.5 369.9a12 12 0 1 0 24 0a12 12 0 1 0 -24 0zM954.6 374.1a12 12 0 1 0 24 0a12 12 0 1 0 -24 0zM955.1 380.6a12 12 0 1 0 24 0a12 12 0 1 0 -24 0zM956.3 384.8a12 12 0 1 0 24 0a12 12 0 1 0 -24 0zM957.3 389.5a12 12 0 1 0 24 0a12 12 0 1 0 -24 0zM957.9 395.6a12 12 0 1 0 24 0a12 12 0 1 0 -24 0zM959.1 399.5a12 12 0 1 0 24 0a12 12 0 1 0 -24 0zM960.8 404.7a12 12 0 1 0 24 0a12 12 0 1 0 -24 0zM962.5 410a12 12 0 1 0 24 0a12 12 0 1 0 -24 0zM964.4 414.5a12 12 0 1 0 24 0a12 12 0 1 0 -24 0zM966.7 417.3a12 12 0 1 0 24 0a12 12 0 1 0 -24 0zM968.5 422.1a12 12 0 1 0 24 0a12 12 0 1 0 -24 0zM970.3 426.7a12 12 0 1 0 24 0a12 12 0 1 0 -24 0zM972.2 431.1a12 12 0 1 0 24 0a12 12 0 1 0 -24 0zM974.1 435.5a12 12 0 1 0 24 0a12 12 0 1 0 -24 0zM975.9 440.2a12 12 0 1 0 24 0a12 12 0 1 0 -24 0zM977.6 445.8a12 12 0 1 0 24 0a12 12 0 1 0 -24 0zM979.7 449.3a12 12 0 1 0 24 0a12 12 0 1 0 -24 0zM981.2 455.4a12 12 0 1 0 24 0a12 12 0 1 0 -24 0zM983.2 459.1a12 12 0 1 0 24 0a12 12 0 1 0 -24 0zM985 463.9a12 12 0 1 0 24 0a12 12 0 1 0 -24 0zM987.2 467.2a12 12 0 1 0 24 0a12 12 0 1 0 -24 0zM988.6 473.7a12 12 0 1 0 24 0a12 12 0 1 0 -24 0zM990.5 478a12 12 0 1 0 24 0a12 12 0 1 0 -24 0zM992.7 481.3a12 12 0 1 0 24 0a12 12 0 1 0 -24 0zM994.6 485.4a12 12 0 1 0 24 0a12 12 0 1 0 -24 0zM996.4 490.3a12 12 0 1 0 24 0a12 12 0 1 0 -24 0zM998.4 494.5a12 12 0 1 0 24 0a12 12 0 1 0 -24 0zM1000.2 499.3a12 12 0 1 0 24 0a12 12 0 1 0 -24 0zM1002 504a12 12 0 1 0 24 0a12 12 0 1 0 -24 0zM1003.6 509.8a12 12 0 1 0 24 0a12 12 0 1 0 -24 0zM1005.2 515.2a12 12 0 1 0 24 0a12 12 0 1 0 -24 0zM1007.4 518.5a12 12 0 1 0 24 0a12 12 0 1 0 -24 0zM1009.2 523.3a12 12 0 1 0 24 0a12 12 0 1 0 -24 0zM1010.8 529a12 12 0 1 0 24 0a12 12 0 1 0 -24 0zM1012.8 532.8a12 12 0 1 0 24 0a12 12 0 1 0 -24 0zM1014.7 537.1a12 12 0 1 0 24 0a12 12 0 1 0 -24 0zM1016.4 542.2a12 12 0 1 0 24 0a12 12 0 1 0 -24 0zM1018.2 547.1a12 12 0 1 0 24 0a12 12 0 1 0 -24 0zM1019.7 553.1a12 12 0 1 0 24 0a12 12 0 1 0 -24 0zM1021.5 557.9a12 12 0 1 0 24 0a12 12 0 1 0 -24 0zM1023.4 562.2a12 12 0 1 0 24 0a12 12 0 1 0 -24 0zM1025.1 567.5a12 12 0 1 0 24 0a12 12 0 1 0 -24 0zM1027 572.1a12 12 0 1 0 24 0a12 12 0 1 0 -24 0zM1029.1 575.7a12 12 0 1 0 24 0a12 12 0 1 0 -24 0zM1030.9 580.3a12 12 0 1 0 24 0a12 12 0 1 0 -24 0zM1032.5 586.2a12 12 0 1 0 24 0a12 12 0 1 0 -24 0zM1034.6 589.7a12 12 0 1 0 24 0a12 12 0 1 0 -24 0zM1036.4 594.4a12 12 0 1 0 24 0a12 12 0 1 0 -24 0zM1037.9 600.3a12 12 0 1 0 24 0a12 12 0 1 0 -24 0zM1039.9 605.6a12 12 0 1 0 24 0a12 12 0 1 0 -24 0zM1042.1 610.2a12 12 0 1 0 24 0a12 12 0 1 0 -24 0zM1044.5 613.5a12 12 0 1 0 24 0a12 12 0 1 0 -24 0zM1046.7 618.1a12 12 0 1 0 24 0a12 12 0 1 0 -24 0zM1049 622.1a12 12 0 1 0 24 0a12 12 0 1 0 -24 0zM1050.7 628.5a12 12 0 1 0 24 0a12 12 0 1 0 -24 0zM1053 632.8a12 12 0 1 0 24 0a12 12 0 1 0 -24 0zM1055.4 636.2a12 12 0 1 0 24 0a12 12 0 1 0 -24 0zM1057.5 641.1a12 12 0 1 0 24 0a12 12 0 1 0 -24 0zM1059.4 646.8a12 12 0 1 0 24 0a12 12 0 1 0 -24 0zM1061.8 650.2a12 12 0 1 0 24 0a12 12 0 1 0 -24 0zM1063.7 656.2a12 12 0 1 0 24 0a12 12 0 1 0 -24 0zM1065.9 660.6a12 12 0 1 0 24 0a12 12 0 1 0 -24 0zM1068 664.3a12 12 0 1 0 24 0a12 12 0 1 0 -24 0zM1069.8 669.5a12 12 0 1 0 24 0a12 12 0 1 0 -24 0zM1072 673.2a12 12 0 1 0 24 0a12 12 0 1 0 -24 0zM1073.5 679.7a12 12 0 1 0 24 0a12 12 0 1 0 -24 0zM1075.4 684.5a12 12 0 1 0 24 0a12 12 0 1 0 -24 0zM1077.8 687.5a12 12 0 1 0 24 0a12 12 0 1 0 -24 0zM1079.6 692.4a12 12 0 1 0 24 0a12 12 0 1 0 -24 0zM1081.3 698.2a12 12 0 1 0 24 0a12 12 0 1 0 -24 0zM1083.6 701.5a12 12 0 1 0 24 0a12 12 0 1 0 -24 0zM1085.5 706.3a12 12 0 1 0 24 0a12 12 0 1 0 -24 0zM1087.3 711.4a12 12 0 1 0 24 0a12 12 0 1 0 -24 0zM1089 717.2a12 12 0 1 0 24 0a12 12 0 1 0 -24 0zM1091.2 720.5a12 12 0 1 0 24 0a12 12 0 1 0 -24 0zM1092.9 726.7a12 12 0 1 0 24 0a12 12 0 1 0 -24 0zM1095.5 729.5a12 12 0 1 0 24 0a12 12 0 1 0 -24 0zM1097.5 735.7a12 12 0 1 0 24 0a12 12 0 1 0 -24 0zM1099.8 740.1a12 12 0 1 0 24 0a12 12 0 1 0 -24 0zM1102.4 743.5a12 12 0 1 0 24 0a12 12 0 1 0 -24 0zM1104.7 747.7a12 12 0 1 0 24 0a12 12 0 1 0 -24 0zM1107.1 751.8a12 12 0 1 0 24 0a12 12 0 1 0 -24 0zM1109.5 755.9a12 12 0 1 0 24 0a12 12 0 1 0 -24 0zM1111.5 762a12 12 0 1 0 24 0a12 12 0 1 0 -24 0zM1113.9 766.3a12 12 0 1 0 24 0a12 12 0 1 0 -24 0zM1116.2 770.8a12 12 0 1 0 24 0a12 12 0 1 0 -24 0zM1118.5 775.3a12 12 0 1 0 24 0a12 12 0 1 0 -24 0zM1120.9 779.3a12 12 0 1 0 24 0a12 12 0 1 0 -24 0zM1123.5 782.7a12 12 0 1 0 24 0a12 12 0 1 0 -24 0zM1125.8 786.9a12 12 0 1 0 24 0a12 12 0 1 0 -24 0zM1127.8 792.9a12 12 0 1 0 24 0a12 12 0 1 0 -24 0zM1130.2 797a12 12 0 1 0 24 0a12 12 0 1 0 -24 0zM1132.6 801.1a12 12 0 1 0 24 0a12 12 0 1 0 -24 0zM1135.1 804.7a12 12 0 1 0 24 0a12 12 0 1 0 -24 0zM1137.2 810.5a12 12 0 1 0 24 0a12 12 0 1 0 -24 0zM1139.5 814.9a12 12 0 1 0 24 0a12 12 0 1 0 -24 0zM1142.1 818.1a12 12 0 1 0 24 0a12 12 0 1 0 -24 0zM1144.1 823.9a12 12 0 1 0 24 0a12 12 0 1 0 -24 0zM1146.9 826.4a12 12 0 1 0 24 0a12 12 0 1 0 -24 0zM1148.9 832.4a12 12 0 1 0 24 0a12 12 0 1 0 -24 0zM1151.4 835.9a12 12 0 1 0 24 0a12 12 0 1 0 -24 0zM1153.9 839.7a12 12 0 1 0 24 0a12 12 0 1 0 -24 0zM1156.1 844.4a12 12 0 1 0 24 0a12 12 0 1 0 -24 0zM1158.2 848.6a12 12 0 1 0 24 0a12 12 0 1 0 -24 0zM1160.1 853.4a12 12 0 1 0 24 0a12 12 0 1 0 -24 0zM1161.9 859.1a12 12 0 1 0 24 0a12 12 0 1 0 -24 0zM1163.8 863.8a12 12 0 1 0 24 0a12 12 0 1 0 -24 0zM1166.2 866.5a12 12 0 1 0 24 0a12 12 0 1 0 -24 0zM1167.9 872.4a12 12 0 1 0 24 0a12 12 0 1 0 -24 0zM1170.1 875.9a12 12 0 1 0 24 0a12 12 0 1 0 -24 0zM1171.8 881.7a12 12 0 1 0 24 0a12 12 0 1 0 -24 0zM1173.8 886.1a12 12 0 1 0 24 0a12 12 0 1 0 -24 0zM1176 889.8a12 12 0 1 0 24 0a12 12 0 1 0 -24 0zM1177.9 894.8a12 12 0 1 0 24 0a12 12 0 1 0 -24 0zM1179.9 899.3a12 12 0 1 0 24 0a12 12 0 1 0 -24 0zM1181.9 903.9a12 12 0 1 0 24 0a12 12 0 1 0 -24 0zM1184.2 907a12 12 0 1 0 24 0a12 12 0 1 0 -24 0zM1185.9 912.5a12 12 0 1 0 24 0a12 12 0 1 0 -24 0zM1187.8 917.6a12 12 0 1 0 24 0a12 12 0 1 0 -24 0zM1190.1 921a12 12 0 1 0 24 0a12 12 0 1 0 -24 0zM1191.8 926.5a12 12 0 1 0 24 0a12 12 0 1 0 -24 0zM1194.2 929.5a12 12 0 1 0 24 0a12 12 0 1 0 -24 0zM1195.8 935.4a12 12 0 1 0 24 0a12 12 0 1 0 -24 0zM1198.2 938.3a12 12 0 1 0 24 0a12 12 0 1 0 -24 0zM1200.2 942.6a12 12 0 1 0 24 0a12 12 0 1 0 -24 0zM1201.9 948.5a12 12 0 1 0 24 0a12 12 0 1 0 -24 0zM1204.2 951.8a12 12 0 1 0 24 0a12 12 0 1 0 -24 0zM1206.1 956.7a12 12 0 1 0 24 0a12 12 0 1 0 -24 0zM1207.9 962a12 12 0 1 0 24 0a12 12 0 1 0 -24 0zM1210.1 965.6a12 12 0 1 0 24 0a12 12 0 1 0 -24 0zM1213.3 970.7a12 12 0 1 0 24 0a12 12 0 1 0 -24 0zM1217 973a12 12 0 1 0 24 0a12 12 0 1 0 -24 0zM1220.4 976.8a12 12 0 1 0 24 0a12 12 0 1 0 -24 0zM1223.6 981.8a12 12 0 1 0 24 0a12 12 0 1 0 -24 0zM1227.3 984.6a12 12 0 1 0 24 0a12 12 0 1 0 -24 0zM1230.4 989.9a12 12 0 1 0 24 0a12 12 0 1 0 -24 0zM1234.1 992.3a12 12 0 1 0 24 0a12 12 0 1 0 -24 0zM1237.3 997.5a12 12 0 1 0 24 0a12 12 0 1 0 -24 0zM1241 1000.1a12 12 0 1 0 24 0a12 12 0 1 0 -24 0zM1244.4 1003.9a12 12 0 1 0 24 0a12 12 0 1 0 -24 0zM1247.9 1007.6a12 12 0 1 0 24 0a12 12 0 1 0 -24 0zM1251.3 1011.6a12 12 0 1 0 24 0a12 12 0 1 0 -24 0zM1254.6 1015.8a12 12 0 1 0 24 0a12 12 0 1 0 -24 0zM1257.9 1020.6a12 12 0 1 0 24 0a12 12 0 1 0 -24 0zM1261.7 1024a12 12 0 1 0 24 0a12 12 0 1 0 -24 0zM1265.6 1027a12 12 0 1 0 24 0a12 12 0 1 0 -24 0zM1269.4 1030.7a12 12 0 1 0 24 0a12 12 0 1 0 -24 0zM1273.4 1032.6a12 12 0 1 0 24 0a12 12 0 1 0 -24 0zM1277.1 1036.9a12 12 0 1 0 24 0a12 12 0 1 0 -24 0zM1281.1 1039.3a12 12 0 1 0 24 0a12 12 0 1 0 -24 0zM1285.1 1041.8a12 12 0 1 0 24 0a12 12 0 1 0 -24 0zM1288.6 1046.7a12 12 0 1 0 24 0a12 12 0 1 0 -24 0zM1292.7 1048.4a12 12 0 1 0 24 0a12 12 0 1 0 -24 0zM1296.3 1053.2a12 12 0 1 0 24 0a12 12 0 1 0 -24 0zM1300.3 1055.4a12 12 0 1 0 24 0a12 12 0 1 0 -24 0zM1304 1059.5a12 12 0 1 0 24 0a12 12 0 1 0 -24 0zM1308 1062.2a12 12 0 1 0 24 0a12 12 0 1 0 -24 0zM1312.4 1064.6a12 12 0 1 0 24 0a12 12 0 1 0 -24 0zM1317 1065.7a12 12 0 1 0 24 0a12 12 0 1 0 -24 0zM1321.3 1068.8a12 12 0 1 0 24 0a12 12 0 1 0 -24 0zM1325.9 1069.4a12 12 0 1 0 24 0a12 12 0 1 0 -24 0zM1330.3 1072.9a12 12 0 1 0 24 0a12 12 0 1 0 -24 0zM1334.7 1075a12 12 0 1 0 24 0a12 12 0 1 0 -24 0zM1339.1 1077.5a12 12 0 1 0 24 0a12 12 0 1 0 -24 0zM1343.6 1079.6a12 12 0 1 0 24 0a12 12 0 1 0 -24 0zM1348.1 1081.6a12 12 0 1 0 24 0a12 12 0 1 0 -24 0zM1352.6 1083.1a12 12 0 1 0 24 0a12 12 0 1 0 -24 0zM1357 1085.1a12 12 0 1 0 24 0a12 12 0 1 0 -24 0zM1361.6 1086.1a12 12 0 1 0 24 0a12 12 0 1 0 -24 0zM1366 1088.4a12 12 0 1 0 24 0a12 12 0 1 0 -24 0zM1370.7 1091.3a12 12 0 1 0 24 0a12 12 0 1 0 -24 0zM1375.5 1091.7a12 12 0 1 0 24 0a12 12 0 1 0 -24 0zM1380.3 1093.8a12 12 0 1 0 24 0a12 12 0 1 0 -24 0zM1385.1 1094.6a12 12 0 1 0 24 0a12 12 0 1 0 -24 0zM1389.7 1097.9a12 12 0 1 0 24 0a12 12 0 1 0 -24 0zM1394.6 1097.9a12 12 0 1 0 24 0a12 12 0 1 0 -24 0zM1399.2 1101.1a12 12 0 1 0 24 0a12 12 0 1 0 -24 0zM1404 1101.6a12 12 0 1 0 24 0a12 12 0 1 0 -24 0zM1408.7 1104.4a12 12 0 1 0 24 0a12 12 0 1 0 -24 0zM1413.5 1105a12 12 0 1 0 24 0a12 12 0 1 0 -24 0zM1418.3 1106a12 12 0 1 0 24 0a12 12 0 1 0 -24 0zM1422.9 1109.4a12 12 0 1 0 24 0a12 12 0 1 0 -24 0zM1427.8 1109.6a12 12 0 1 0 24 0a12 12 0 1 0 -24 0zM1432.6 1110.9a12 12 0 1 0 24 0a12 12 0 1 0 -24 0zM1437.2 1114.3a12 12 0 1 0 24 0a12 12 0 1 0 -24 0zM1442 1114.4a12 12 0 1 0 24 0a12 12 0 1 0 -24 0zM1446.9 1115.8a12 12 0 1 0 24 0a12 12 0 1 0 -24 0zM1451.8 1115.8a12 12 0 1 0 24 0a12 12 0 1 0 -24 0zM1456.7 1116.3a12 12 0 1 0 24 0a12 12 0 1 0 -24 0zM1461.5 1118.6a12 12 0 1 0 24 0a12 12 0 1 0 -24 0zM1466.4 1119.2a12 12 0 1 0 24 0a12 12 0 1 0 -24 0zM1471.4 1118.5a12 12 0 1 0 24 0a12 12 0 1 0 -24 0zM1476.2 1119.4a12 12 0 1 0 24 0a12 12 0 1 0 -24 0zM1481.1 1121.5a12 12 0 1 0 24 0a12 12 0 1 0 -24 0zM1486 1120.7a12 12 0 1 0 24 0a12 12 0 1 0 -24 0zM1490.9 1121.3a12 12 0 1 0 24 0a12 12 0 1 0 -24 0zM1495.8 1122.3a12 12 0 1 0 24 0a12 12 0 1 0 -24 0zM1500.7 1122.9a12 12 0 1 0 24 0a12 12 0 1 0 -24 0zM1505.6 1123.4a12 12 0 1 0 24 0a12 12 0 1 0 -24 0zM1510.5 1124.7a12 12 0 1 0 24 0a12 12 0 1 0 -24 0zM1515.3 1125.5a12 12 0 1 0 24 0a12 12 0 1 0 -24 0zM1520.2 1126.1a12 12 0 1 0 24 0a12 12 0 1 0 -24 0zM1525.1 1126.7a12 12 0 1 0 24 0a12 12 0 1 0 -24 0zM1530 1127a12 12 0 1 0 24 0a12 12 0 1 0 -24 0zM1534.9 1129.7a12 12 0 1 0 24 0a12 12 0 1 0 -24 0zM1539.9 1128.8a12 12 0 1 0 24 0a12 12 0 1 0 -24 0zM1544.9 1130a12 12 0 1 0 24 0a12 12 0 1 0 -24 0zM1549.8 1132a12 12 0 1 0 24 0a12 12 0 1 0 -24 0zM1554.7 1133.1a12 12 0 1 0 24 0a12 12 0 1 0 -24 0zM1559.7 1132.2a12 12 0 1 0 24 0a12 12 0 1 0 -24 0zM1564.6 1133.6a12 12 0 1 0 24 0a12 12 0 1 0 -24 0zM1569.6 1134.1a12 12 0 1 0 24 0a12 12 0 1 0 -24 0zM1574.5 1136.3a12 12 0 1 0 24 0a12 12 0 1 0 -24 0zM1579.5 1135.4a12 12 0 1 0 24 0a12 12 0 1 0 -24 0zM1584.4 1137.9a12 12 0 1 0 24 0a12 12 0 1 0 -24 0zM1589.3 1138.5a12 12 0 1 0 24 0a12 12 0 1 0 -24 0zM1594.3 1139.5a12 12 0 1 0 24 0a12 12 0 1 0 -24 0zM1599.2 1139.4a12 12 0 1 0 24 0a12 12 0 1 0 -24 0zM1604.2 1140a12 12 0 1 0 24 0a12 12 0 1 0 -24 0zM1609.1 1140.6a12 12 0 1 0 24 0a12 12 0 1 0 -24 0zM1614 1142.8a12 12 0 1 0 24 0a12 12 0 1 0 -24 0zM1619 1144a12 12 0 1 0 24 0a12 12 0 1 0 -24 0zM1624 1143.9a12 12 0 1 0 24 0a12 12 0 1 0 -24 0zM1629 1143.3a12 12 0 1 0 24 0a12 12 0 1 0 -24 0zM1634 1145.1a12 12 0 1 0 24 0a12 12 0 1 0 -24 0zM1639 1144.2a12 12 0 1 0 24 0a12 12 0 1 0 -24 0zM1644 1145.8a12 12 0 1 0 24 0a12 12 0 1 0 -24 0zM1649 1145.5a12 12 0 1 0 24 0a12 12 0 1 0 -24 0zM1654 1146.7a12 12 0 1 0 24 0a12 12 0 1 0 -24 0zM1659 1146.3a12 12 0 1 0 24 0a12 12 0 1 0 -24 0zM1664 1147.5a12 12 0 1 0 24 0a12 12 0 1 0 -24 0zM1669 1147.8a12 12 0 1 0 24 0a12 12 0 1 0 -24 0zM1674 1148.2a12 12 0 1 0 24 0a12 12 0 1 0 -24 0zM1679 1148.5a12 12 0 1 0 24 0a12 12 0 1 0 -24 0zM1684 1148.9a12 12 0 1 0 24 0a12 12 0 1 0 -24 0zM1689 1149.5a12 12 0 1 0 24 0a12 12 0 1 0 -24 0zM1694 1150a12 12 0 1 0 24 0a12 12 0 1 0 -24 0zM1698.9 1150.3a12 12 0 1 0 24 0a12 12 0 1 0 -24 0zM1703.8 1150.5a12 12 0 1 0 24 0a12 12 0 1 0 -24 0zM1708.7 1150.8a12 12 0 1 0 24 0a12 12 0 1 0 -24 0zM1713.6 1151.1a12 12 0 1 0 24 0a12 12 0 1 0 -24 0zM1718.5 1151.4a12 12 0 1 0 24 0a12 12 0 1 0 -24 0zM1723.5 1151.6a12 12 0 1 0 24 0a12 12 0 1 0 -24 0zM1728.4 1151.9a12 12 0 1 0 24 0a12 12 0 1 0 -24 0zM1733.3 1152.2a12 12 0 1 0 24 0a12 12 0 1 0 -24 0zM1738.2 1152.5a12 12 0 1 0 24 0a12 12 0 1 0 -24 0zM1743.1 1152.7a12 12 0 1 0 24 0a12 12 0 1 0 -24 0zM1748 1153a12 12 0 1 0 24 0a12 12 0 1 0 -24 0z" fill="#f00"/>
<polyline points="565,1156 578,1130 591,1100 604,1050 629,966 655,800 668,720 687,600 706,500 716,455 728,434 738,428 750,447 775,415 800,400 820,395 850,378 880,362 910,350 935,346 958,343 972,390 992,470 1028,570 1056,645 1082,726 1143,845 1204,960 1252,1035 1320,1095 1378,1113 1445,1133 1506,1150 1560,1152 1585,1154" fill="none" stroke="#0f0" stroke-width="22" stroke-linejoin="round" stroke-linecap="round"/>
<path d="M550.2 1165.6h30l-15 -26zM552.3 1161h30l-15 -26zM554.3 1155.6h30l-15 -26zM556.4 1151.4h30l-15 -26zM558.8 1147.9h30l-15 -26zM561 1143.6h30l-15 -26zM562.9 1138.2h30l-15 -26zM565 1134.9h30l-15 -26zM566.6 1129.5h30l-15 -26zM568.8 1126.7h30l-15 -26zM570.3 1121h30l-15 -26zM572.2 1116.7h30l-15 -26zM574.1 1112.7h30l-15 -26zM575.8 1107.7h30l-15 -26zM577.5 1104.4h30l-15 -26zM578.5 1098.2h30l-15 -26zM580 1094.3h30l-15 -26zM581.4 1089.5h30l-15 -26zM582.4 1083.2h30l-15 -26zM583.7 1078.1h30l-15 -26zM585 1073.1h30l-15 -26zM586.4 1068.5h30l-15 -26zM587.9 1064.6h30l-15 -26zM589.2 1059.3h30l-15 -26zM590.2 1053.1h30l-15 -26zM592 1050.3h30l-15 -26zM593.1 1044.2h30l-15 -26zM594.4 1039.2h30l-15 -26zM596 1035.7h30l-15 -26zM597.2 1030.1h30l-15 -26zM598.5 1025h30l-15 -26zM600 1021h30l-15 -26zM601.7 1017.6h30l-15 -26zM602.7 1011.1h30l-15 -26zM604.1 1006.4h30l-15 -26zM605.6 1002.2h30l-15 -26zM607.1 998.2h30l-15 -26zM608.3 992.8h30l-15 -26zM609.6 987.7h30l-15 -26zM611.4 984.7h30l-15 -26zM612.8 980.2h30l-15 -26zM613.8 974h30l-15 -26zM614.9 970.2h30l-15 -26zM615.4 964.3h30l-15 -26zM616.4 960.4h30l-15 -26zM616.8 954.3h30l-15 -26zM617.7 949.6h30l-15 -26zM618.4 944.5h30l-15 -26zM619.1 939.5h30l-15 -26zM620.1 935.4h30l-15 -26zM621.1 931.7h30l-15 -26zM621.4 925h30l-15 -26zM622.2 920h30l-15 -26zM623.4 917h30l-15 -26zM623.8 910.6h30l-15 -26zM624.8 906.8h30l-15 -26zM625.3 900.8h30l-15 -26zM626.3 896.9h30l-15 -26zM626.8 890.8h30l-15 -26zM627.6 886h30l-15 -26zM628.4 881.3h30l-15 -26zM629.2 876.6h30l-15 -26zM630.2 872.6h30l-15 -26zM630.7 866.8h30l-15 -26zM631.7 862.9h30l-15 -26zM632.2 857h30l-15 -26zM633 852.1h30l-15 -26zM633.9 848h30l-15 -26zM634.5 842.1h30l-15 -26zM635.2 837.3h30l-15 -26zM636.2 833.4h30l-15 -26zM636.7 827.2h30l-15 -26zM638 824.3h30l-15 -26zM638.2 817.5h30l-15 -26zM639.1 813h30l-15 -26zM640.2 809.6h30l-15 -26zM640.6 802.8h30l-15 -26zM641.7 799h30l-15 -26zM642.3 793.1h30l-15 -26zM643.4 789.3h30l-15 -26zM644.1 783.7h30l-15 -26zM645 779h30l-15 -26zM645.7 773.8h30l-15 -26zM646.6 769.1h30l-15 -26zM647.2 763.4h30l-15 -26zM648 758h30l-15 -26zM648.7 752.9h30l-15 -26zM649.6 747.9h30l-15 -26zM650.3 742.7h30l-15 -26zM651.6 739.5h30l-15 -26zM652.1 733.3h30l-15 -26zM652.8 727.9h30l-15 -26zM653.8 723.6h30l-15 -26zM654.8 719.6h30l-15 -26zM655.2 713h30l-15 -26zM656.3 709.2h30l-15 -26zM657 703.9h30l-15 -26zM658 699.6h30l-15 -26zM658.6 694h30l-15 -26zM659.4 689.1h30l-15 -26zM660.2 683.8h30l-15 -26zM661.1 679.4h30l-15 -26zM661.6 673.1h30l-15 -26zM662.7 669.6h30l-15 -26zM663.2 663.4h30l-15 -26zM663.9 657.8h30l-15 -26zM665.1 654.5h30l-15 -26zM665.8 649.4h30l-15 -26zM666.3 643.2h30l-15 -26zM667 637.7h30l-15 -26zM668.2 634.3h30l-15 -26zM668.7 628h30l-15 -26zM669.6 623.6h30l-15 -26zM670.3 618.3h30l-15 -26zM671.1 613.3h30l-15 -26zM672.1 609.1h30l-15 -26zM672.9 603.6h30l-15 -26zM673.8 598.2h30l-15 -26zM675 594.3h30l-15 -26zM675.9 588.9h30l-15 -26zM676.5 582.8h30l-15 -26zM677.6 578.2h30l-15 -26zM678.8 574.3h30l-15 -26zM679.7 568.9h30l-15 -26zM680.4 563.1h30l-15 -26zM681.3 558h30l-15 -26zM682.2 552.8h30l-15 -26zM683.2 547.9h30l-15 -26zM684.6 544.5h30l-15 -26zM685.1 537.7h30l-15 -26zM686 532.7h30l-15 -26zM687.4 529.5h30l-15 -26zM688 523.1h30l-15 -26zM688.9 517.8h30l-15 -26zM690.2 514.2h30l-15 -26zM691.2 509.5h30l-15 -26zM692.3 504.6h30l-15 -26zM693.1 498.2h30l-15 -26zM694.1 492.7h30l-15 -26zM695.6 489.1h30l-15 -26zM696.7 484.4h30l-15 -26zM697.5 478.1h30l-15 -26zM698.7 473.5h30l-15 -26zM700 469h30l-15 -26zM700.9 463.3h30l-15 -26zM703.6 460.4h30l-15 -26zM706 456h30l-15 -26zM708.2 450.9h30l-15 -26zM710.8 447.8h30l-15 -26zM713.1 443.4h30l-15 -26zM717.9 438.9h30l-15 -26zM722.9 436.9h30l-15 -26zM726.1 440.8h30l-15 -26zM729.1 445.7h30l-15 -26zM731.9 451.4h30l-15 -26zM734.9 455.4h30l-15 -26zM738.2 451.9h30l-15 -26zM741.1 446.9h30l-15 -26zM744.1 442.4h30l-15 -26zM747.7 440.7h30l-15 -26zM750.8 436.4h30l-15 -26zM753.5 430.2h30l-15 -26zM757.2 429.4h30l-15 -26zM759.8 422.1h30l-15 -26zM764 419.8h30l-15 -26zM768.5 419.9h30l-15 -26zM772.7 417.7h30l-15 -26zM776.9 415.4h30l-15 -26zM780.7 410.3h30l-15 -26zM785 407.9h30l-15 -26zM790.1 409.4h30l-15 -26zM795 406.3h30l-15 -26zM800 405.6h30l-15 -26zM804.9 402.6h30l-15 -26zM809.4 402.5h30l-15 -26zM813.8 400.7h30l-15 -26zM817.7 395.4h30l-15 -26zM822.1 393.3h30l-15 -26zM826.2 390h30l-15 -26zM830.9 390.3h30l-15 -26zM834.8 385.3h30l-15 -26zM839.4 385.5h30l-15 -26zM843.4 380.7h30l-15 -26zM847.7 378.6h30l-15 -26zM852.2 378.1h30l-15 -26zM856.3 373.7h30l-15 -26zM860.9 374.7h30l-15 -26zM864.8 369h30l-15 -26zM870.1 369.6h30l-15 -26zM874.9 365.5h30l-15 -26zM880 364.6h30l-15 -26zM884.9 361.4h30l-15 -26zM889.9 359.5h30l-15 -26zM895.1 360.5h30l-15 -26zM900 356.7h30l-15 -26zM905.1 358.7h30l-15 -26zM910.1 357.9h30l-15 -26zM915 356.5h30l-15 -26zM920 356.2h30l-15 -26zM924.5 352.3h30l-15 -26zM929.2 354.6h30l-15 -26zM933.8 353.6h30l-15 -26zM938.5 354h30l-15 -26zM942.7 353.1h30l-15 -26zM944.5 355.9h30l-15 -26zM945.6 362h30l-15 -26zM947.6 364.1h30l-15 -26zM949 368.9h30l-15 -26zM950 375h30l-15 -26zM951.2 380.9h30l-15 -26zM952.6 385.2h30l-15 -26zM954 390.1h30l-15 -26zM955.4 394.7h30l-15 -26zM956.9 399.2h30l-15 -26zM958.2 403.8h30l-15 -26zM959.3 409.3h30l-15 -26zM960.9 412.9h30l-15 -26zM962.1 418.4h30l-15 -26zM963.1 424.3h30l-15 -26zM964.7 427.7h30l-15 -26zM965.6 434.3h30l-15 -26zM966.8 439.5h30l-15 -26zM968.1 444.5h30l-15 -26zM969.6 448.3h30l-15 -26zM970.6 454.2h30l-15 -26zM972.2 457.8h30l-15 -26zM973.3 463.4h30l-15 -26zM974.3 469.5h30l-15 -26zM975.6 474.4h30l-15 -26zM976.8 479.6h30l-15 -26zM978.9 482.8h30l-15 -26zM980.6 487.6h30l-15 -26zM982.3 492.2h30l-15 -26zM984 497.2h30l-15 -26zM985.8 501.7h30l-15 -26zM987.5 506.4h30l-15 -26zM988.8 512.8h30l-15 -26zM990.9 515.8h30l-15 -26zM992.2 522.4h30l-15 -26zM994.3 525.5h30l-15 -26zM995.9 530.7h30l-15 -26zM997.4 536.7h30l-15 -26zM999.5 539.9h30l-15 -26zM1000.8 546.1h30l-15 -26zM1002.8 549.8h30l-15 -26zM1004.5 554.7h30l-15 -26zM1006.2 559.3h30l-15 -26zM1007.6 565.3h30l-15 -26zM1009.4 570h30l-15 -26zM1011.5 573.1h30l-15 -26zM1012.9 579h30l-15 -26zM1014.9 582.8h30l-15 -26zM1016.5 587.9h30l-15 -26zM1018.5 591.8h30l-15 -26zM1020.1 596.9h30l-15 -26zM1021.6 602.9h30l-15 -26zM1023.5 606.6h30l-15 -26zM1025.1 612.2h30l-15 -26zM1027.1 615.6h30l-15 -26zM1028.9 620.4h30l-15 -26zM1030.6 625.2h30l-15 -26zM1032.4 629.7h30l-15 -26zM1033.9 635.4h30l-15 -26zM1035.5 640.6h30l-15 -26zM1037.3 645.3h30l-15 -26zM1039.4 648.6h30l-15 -26zM1040.8 654.5h30l-15 -26zM1042.7 657.8h30l-15 -26zM1043.8 664.1h30l-15 -26zM1045.6 668.1h30l-15 -26zM1047.2 672.5h30l-15 -26zM1048.8 676.9h30l-15 -26zM1050.2 682.2h30l-15 -26zM1051.6 687.6h30l-15 -26zM1053.2 692.1h30l-15 -26zM1054.6 697.1h30l-15 -26zM1056.5 700.3h30l-15 -26zM1057.6 707h30l-15 -26zM1059.2 711.5h30l-15 -26zM1060.8 716h30l-15 -26zM1062.3 720.9h30l-15 -26zM1063.9 725.3h30l-15 -26zM1065.6 729.4h30l-15 -26zM1067.1 734.2h30l-15 -26zM1069.3 738.8h30l-15 -26zM1071.4 744.2h30l-15 -26zM1073.9 747.2h30l-15 -26zM1075.8 753.2h30l-15 -26zM1078.4 756.4h30l-15 -26zM1080.5 761.5h30l-15 -26zM1082.7 766.1h30l-15 -26zM1085.2 769.4h30l-15 -26zM1087.2 775h30l-15 -26zM1089.8 777.8h30l-15 -26zM1092.1 782.2h30l-15 -26zM1093.9 788.3h30l-15 -26zM1096.2 792.7h30l-15 -26zM1098.5 797.1h30l-15 -26zM1100.7 801.5h30l-15 -26zM1103.2 804.9h30l-15 -26zM1105.6 808.8h30l-15 -26zM1107.8 813.3h30l-15 -26zM1109.7 819.2h30l-15 -26zM1112.2 822.9h30l-15 -26zM1114.6 826.7h30l-15 -26zM1116.5 832.4h30l-15 -26zM1119.2 835.2h30l-15 -26zM1121.3 839.9h30l-15 -26zM1123.5 844.7h30l-15 -26zM1125.5 850.1h30l-15 -26zM1127.9 854h30l-15 -26zM1130.3 858.3h30l-15 -26zM1132.6 862.8h30l-15 -26zM1134.9 867.4h30l-15 -26zM1137.2 872.3h30l-15 -26zM1139.5 876.6h30l-15 -26zM1142.3 879.2h30l-15 -26zM1144.4 884.5h30l-15 -26zM1146.6 890h30l-15 -26zM1149.3 892.7h30l-15 -26zM1151.4 898.3h30l-15 -26zM1153.7 902.9h30l-15 -26zM1156.2 906.4h30l-15 -26zM1158.6 910.7h30l-15 -26zM1161 914.8h30l-15 -26zM1163.3 919.4h30l-15 -26zM1165.7 923.8h30l-15 -26zM1167.8 929.2h30l-15 -26zM1170.4 932.6h30l-15 -26zM1172.7 937h30l-15 -26zM1175.1 941.4h30l-15 -26zM1177.1 947.5h30l-15 -26zM1179.4 951.9h30l-15 -26zM1182.2 954.5h30l-15 -26zM1184.1 960.8h30l-15 -26zM1186.9 963.3h30l-15 -26zM1189 968.5h30l-15 -26zM1191.6 973.2h30l-15 -26zM1194.1 977.9h30l-15 -26zM1197.1 980.5h30l-15 -26zM1199.4 986.6h30l-15 -26zM1202.5 988.9h30l-15 -26zM1205.1 993h30l-15 -26zM1207.5 998.7h30l-15 -26zM1210.1 1003.2h30l-15 -26zM1212.8 1007.2h30l-15 -26zM1215.9 1009.4h30l-15 -26zM1218.6 1013.5h30l-15 -26zM1221.1 1018.4h30l-15 -26zM1223.5 1023.4h30l-15 -26zM1226.7 1025.3h30l-15 -26zM1229.3 1029.9h30l-15 -26zM1232.1 1033.5h30l-15 -26zM1234.6 1038.5h30l-15 -26zM1236.9 1044.1h30l-15 -26zM1240.7 1047.6h30l-15 -26zM1244.3 1051.9h30l-15 -26zM1248.6 1052h30l-15 -26zM1252.3 1055.7h30l-15 -26zM1255.8 1060.9h30l-15 -26zM1259.4 1065.3h30l-15 -26zM1263.8 1065.1h30l-15 -26zM1267.5 1068.9h30l-15 -26zM1271.2 1072.6h30l-15 -26zM1275 1075.6h30l-15 -26zM1278.8 1078.8h30l-15 -26zM1282.6 1082.2h30l-15 -26zM1285.8 1088.8h30l-15 -26zM1289.6 1092.1h30l-15 -26zM1293.9 1092.1h30l-15 -26zM1297.6 1095.9h30l-15 -26zM1301.3 1100h30l-15 -26zM1304.9 1104.6h30l-15 -26zM1310 1103.5h30l-15 -26zM1314.5 1108.6h30l-15 -26zM1319.6 1107.1h30l-15 -26zM1324.2 1111.1h30l-15 -26zM1329.1 1111.9h30l-15 -26zM1334 1112.4h30l-15 -26zM1338.7 1116.2h30l-15 -26zM1343.6 1116.1h30l-15 -26zM1348.4 1119.1h30l-15 -26zM1353.3 1119.2h30l-15 -26zM1358 1122.1h30l-15 -26zM1362.9 1122.4h30l-15 -26zM1367.8 1123.2h30l-15 -26zM1372.7 1123h30l-15 -26zM1377.2 1127.5h30l-15 -26zM1382.2 1126.8h30l-15 -26zM1386.9 1128.6h30l-15 -26zM1391.6 1132h30l-15 -26zM1396.4 1132.8h30l-15 -26zM1401.3 1132.6h30l-15 -26zM1406 1136.2h30l-15 -26zM1410.8 1137.1h30l-15 -26zM1415.6 1138.4h30l-15 -26zM1420.4 1139.4h30l-15 -26zM1425.1 1142h30l-15 -26zM1429.9 1142.5h30l-15 -26zM1434.7 1142.5h30l-15 -26zM1439.3 1146.2h30l-15 -26zM1444.2 1144.3h30l-15 -26zM1448.7 1148.6h30l-15 -26zM1453.4 1149.7h30l-15 -26zM1458.2 1148.9h30l-15 -26zM1462.9 1150.1h30l-15 -26zM1467.4 1153.7h30l-15 -26zM1472.2 1153.9h30l-15 -26zM1477 1152.9h30l-15 -26zM1481.6 1156.8h30l-15 -26zM1486.3 1157.4h30l-15 -26zM1491 1159.3h30l-15 -26zM1495.9 1157.4h30l-15 -26zM1500.8 1160.7h30l-15 -26zM1505.7 1158.2h30l-15 -26zM1510.7 1157.9h30l-15 -26zM1515.6 1158.7h30l-15 -26zM1520.5 1158.9h30l-15 -26zM1525.4 1160.9h30l-15 -26zM1530.3 1160.4h30l-15 -26zM1535.2 1161.1h30l-15 -26zM1540.1 1161.6h30l-15 -26zM1545 1159.7h30l-15 -26zM1550 1160.2h30l-15 -26zM1555 1160.6h30l-15 -26zM1560 1162.6h30l-15 -26zM1565 1163h30l-15 -26zM1570 1163.6h30l-15 -26zM1581 1163.7h30l-15 -26zM1588 1162.7h30l-15 -26zM1595 1160.7h30l-15 -26zM1602 1162.7h30l-15 -26zM1609 1163.7h30l-15 -26z" fill="#0f0"/>
<polyline points="590,1158 605,1100 625,1050 640,966 667,800 682,720 700,600 716,530 726,514 745,508 770,494 800,468 835,424 866,411 886,388 912,368 935,362 948,362 960,385 984,470 1020,560 1048,640 1078,726 1140,845 1198,955 1240,1025 1290,1105 1340,1140 1380,1152 1416,1158" fill="none" stroke="#00f" stroke-width="22" stroke-linejoin="round" stroke-linecap="round"/>
<path d="M575.2 1150.1h30l-15 26zM576.1 1144h30l-15 26zM577.7 1140.4h30l-15 26zM578.5 1133.9h30l-15 26zM579.8 1129.2h30l-15 26zM581.4 1126h30l-15 26zM582.3 1119.6h30l-15 26zM583.9 1116.2h30l-15 26zM585.1 1111.2h30l-15 26zM586.1 1105.1h30l-15 26zM587.6 1101.4h30l-15 26zM588.7 1095.8h30l-15 26zM589.8 1090.6h30l-15 26zM591.7 1086.4h30l-15 26zM593.8 1083h30l-15 26zM595.3 1077h30l-15 26zM597.5 1074h30l-15 26zM598.9 1067.9h30l-15 26zM600.7 1063.4h30l-15 26zM602.5 1058.7h30l-15 26zM604.3 1054.1h30l-15 26zM606.2 1049.5h30l-15 26zM608 1045h30l-15 26zM609.8 1040.6h30l-15 26zM610.7 1035.8h30l-15 26zM611.9 1032.1h30l-15 26zM612.5 1025.8h30l-15 26zM613.5 1021.3h30l-15 26zM614.3 1016h30l-15 26zM615.2 1011.1h30l-15 26zM616 1005.9h30l-15 26zM616.9 1001.2h30l-15 26zM617.7 996.1h30l-15 26zM619.1 992.9h30l-15 26zM619.5 986.2h30l-15 26zM620.4 981.3h30l-15 26zM621.6 977.4h30l-15 26zM622.6 973h30l-15 26zM623 966.3h30l-15 26zM624 961.9h30l-15 26zM625.2 958.2h30l-15 26zM625.6 951.6h30l-15 26zM626.7 947.8h30l-15 26zM627.6 943.6h30l-15 26zM628.1 937.7h30l-15 26zM628.9 932.5h30l-15 26zM629.6 927.2h30l-15 26zM630.3 922.3h30l-15 26zM631.4 918.5h30l-15 26zM632 912.7h30l-15 26zM632.7 907.6h30l-15 26zM633.7 903.3h30l-15 26zM634.8 899.7h30l-15 26zM635.5 894.8h30l-15 26zM636.3 889.7h30l-15 26zM637.2 885.1h30l-15 26zM637.7 879.1h30l-15 26zM638.3 873.7h30l-15 26zM639.5 870.4h30l-15 26zM640 864.4h30l-15 26zM641.1 860.6h30l-15 26zM641.5 854h30l-15 26zM642.6 850.5h30l-15 26zM643.1 844.5h30l-15 26zM643.9 839.7h30l-15 26zM644.7 834.5h30l-15 26zM645.5 830h30l-15 26zM646.6 826.3h30l-15 26zM647.4 821.3h30l-15 26zM648.3 816.7h30l-15 26zM648.8 810.9h30l-15 26zM649.7 806.5h30l-15 26zM650.3 800.7h30l-15 26zM651 795.5h30l-15 26zM651.9 790.9h30l-15 26zM653 786.5h30l-15 26zM654 781.9h30l-15 26zM654.6 775.3h30l-15 26zM655.5 770.4h30l-15 26zM656.5 765.4h30l-15 26zM657.8 762.1h30l-15 26zM658.4 755.8h30l-15 26zM659.7 752.2h30l-15 26zM660.2 745.4h30l-15 26zM661.2 740.5h30l-15 26zM662.6 737.3h30l-15 26zM663.5 732.2h30l-15 26zM664.1 725.8h30l-15 26zM665.3 721.9h30l-15 26zM666.3 717.1h30l-15 26zM667.2 712h30l-15 26zM667.5 705.5h30l-15 26zM668.6 701.7h30l-15 26zM669.2 696.3h30l-15 26zM670.1 691.9h30l-15 26zM670.9 687h30l-15 26zM671.7 682.3h30l-15 26zM672.2 676h30l-15 26zM673.1 671.8h30l-15 26zM673.8 666.5h30l-15 26zM674.3 660.6h30l-15 26zM675.1 655.6h30l-15 26zM676.2 652.1h30l-15 26zM676.9 646.9h30l-15 26zM677.7 642.2h30l-15 26zM678 635.4h30l-15 26zM679.2 632.3h30l-15 26zM680 627.3h30l-15 26zM680.3 620.5h30l-15 26zM681.4 616.8h30l-15 26zM681.9 610.9h30l-15 26zM682.9 607h30l-15 26zM683.7 602.2h30l-15 26zM684.2 596h30l-15 26zM684.8 590.4h30l-15 26zM686.1 586.1h30l-15 26zM687.5 582.2h30l-15 26zM688.3 576h30l-15 26zM689.4 570.6h30l-15 26zM690.6 565.9h30l-15 26zM692.1 562.3h30l-15 26zM692.8 555.6h30l-15 26zM694.3 552.1h30l-15 26zM695.4 546.7h30l-15 26zM696.6 542.2h30l-15 26zM697.4 535.6h30l-15 26zM698.9 532.2h30l-15 26zM700 526.8h30l-15 26zM701.2 522.3h30l-15 26zM703.3 516.4h30l-15 26zM706 513.5h30l-15 26zM708.6 509.7h30l-15 26zM711 505h30l-15 26zM715.7 503.2h30l-15 26zM720.5 501.8h30l-15 26zM725.3 501.4h30l-15 26zM729.9 498.6h30l-15 26zM734.2 497.5h30l-15 26zM738.5 495.8h30l-15 26zM742.7 493.6h30l-15 26zM746.8 491.3h30l-15 26zM751 489h30l-15 26zM755.2 486.7h30l-15 26zM758.8 482.7h30l-15 26zM762.3 477.4h30l-15 26zM766 474h30l-15 26zM770.1 473h30l-15 26zM773.6 467.9h30l-15 26zM777.2 463.9h30l-15 26zM781.2 462h30l-15 26zM784.7 457.9h30l-15 26zM788 454.4h30l-15 26zM791.7 453h30l-15 26zM794.2 445.5h30l-15 26zM797.5 442h30l-15 26zM801.2 441.1h30l-15 26zM803.9 434.1h30l-15 26zM807.4 432.1h30l-15 26zM810.8 429.2h30l-15 26zM813.9 424.6h30l-15 26zM817.2 421.1h30l-15 26zM819.9 414.8h30l-15 26zM824.4 413.1h30l-15 26zM829 413.2h30l-15 26zM833.3 410.1h30l-15 26zM837.8 409.1h30l-15 26zM842.3 408h30l-15 26zM846.5 403.9h30l-15 26zM850.8 401.4h30l-15 26zM854.5 399.4h30l-15 26zM857.8 395.4h30l-15 26zM861.3 392.4h30l-15 26zM864.7 388.9h30l-15 26zM867.8 384h30l-15 26zM870.8 378h30l-15 26zM875 378.4h30l-15 26zM878.2 371.8h30l-15 26zM882.2 371.2h30l-15 26zM885.7 366.6h30l-15 26zM889.5 364.4h30l-15 26zM893.4 363h30l-15 26zM896.9 357.5h30l-15 26zM901.5 356.3h30l-15 26zM906.2 357.2h30l-15 26zM910.8 356.5h30l-15 26zM915.3 352.5h30l-15 26zM920 354.9h30l-15 26zM924.3 352.7h30l-15 26zM928.7 352.7h30l-15 26zM932.9 354h30l-15 26zM935.3 358.4h30l-15 26zM938 361.5h30l-15 26zM940.1 367.5h30l-15 26zM942.4 372.7h30l-15 26zM944.8 377.3h30l-15 26zM946.5 380.3h30l-15 26zM947.9 384.9h30l-15 26zM949 390.4h30l-15 26zM950.5 394.5h30l-15 26zM951.9 399.1h30l-15 26zM953.2 403.7h30l-15 26zM954.3 409.6h30l-15 26zM955.7 413.8h30l-15 26zM956.8 419.8h30l-15 26zM958.3 423.6h30l-15 26zM959.9 427.5h30l-15 26zM961.2 432.2h30l-15 26zM962.5 437h30l-15 26zM963.4 443.4h30l-15 26zM965.1 446.6h30l-15 26zM966.6 451h30l-15 26zM967.9 455.8h30l-15 26zM968.8 462.1h30l-15 26zM971 465.6h30l-15 26zM973 469.8h30l-15 26zM974.8 474.9h30l-15 26zM976.4 481.1h30l-15 26zM978.4 485.5h30l-15 26zM980.2 490.6h30l-15 26zM982.1 495.2h30l-15 26zM984 500h30l-15 26zM985.9 504.5h30l-15 26zM987.8 509.4h30l-15 26zM989.6 514.4h30l-15 26zM991.5 519h30l-15 26zM993.4 523.8h30l-15 26zM995.6 527.2h30l-15 26zM997.2 533.2h30l-15 26zM999.1 538.1h30l-15 26zM1001.4 541.1h30l-15 26zM1003.3 545.7h30l-15 26zM1005.2 550.4h30l-15 26zM1006.8 555.5h30l-15 26zM1008.1 561.5h30l-15 26zM1009.8 566.1h30l-15 26zM1011.4 570.8h30l-15 26zM1013.4 574.2h30l-15 26zM1014.7 580.2h30l-15 26zM1016.4 584.7h30l-15 26zM1018 589.5h30l-15 26zM1020 593.1h30l-15 26zM1021.3 599.1h30l-15 26zM1023.1 603.3h30l-15 26zM1025 606.9h30l-15 26zM1026.3 613h30l-15 26zM1027.8 618.1h30l-15 26zM1029.5 622.6h30l-15 26zM1031.2 627.3h30l-15 26zM1033 631.1h30l-15 26zM1034.5 636.8h30l-15 26zM1036.5 640h30l-15 26zM1038.2 644.9h30l-15 26zM1039.9 649.6h30l-15 26zM1041.2 655.6h30l-15 26zM1043.1 659.5h30l-15 26zM1044.5 665.7h30l-15 26zM1046.3 669.8h30l-15 26zM1048.2 673.5h30l-15 26zM1049.6 679.4h30l-15 26zM1051.1 684.7h30l-15 26zM1052.9 689.3h30l-15 26zM1054.8 693h30l-15 26zM1056.1 699.2h30l-15 26zM1058.1 702.4h30l-15 26zM1059.5 708.6h30l-15 26zM1061.5 711.7h30l-15 26zM1063 717.3h30l-15 26zM1065.4 721.2h30l-15 26zM1067.8 725.4h30l-15 26zM1069.7 731.4h30l-15 26zM1072.2 735.1h30l-15 26zM1074.5 739.4h30l-15 26zM1076.7 744h30l-15 26zM1079.2 747.7h30l-15 26zM1081.2 753.5h30l-15 26zM1083.6 757.4h30l-15 26zM1085.9 761.6h30l-15 26zM1088.1 766.7h30l-15 26zM1090.6 769.9h30l-15 26zM1092.7 775.4h30l-15 26zM1094.9 780h30l-15 26zM1097.3 784h30l-15 26zM1099.9 787h30l-15 26zM1101.8 793.2h30l-15 26zM1104.2 797.4h30l-15 26zM1106.5 801.6h30l-15 26zM1108.7 806.4h30l-15 26zM1111.4 808.9h30l-15 26zM1113.7 813.3h30l-15 26zM1115.8 818.9h30l-15 26zM1118.2 822.6h30l-15 26zM1120.5 827.3h30l-15 26zM1122.6 832.5h30l-15 26zM1124.9 837h30l-15 26zM1127.4 840.5h30l-15 26zM1129.4 846.1h30l-15 26zM1131.8 850.1h30l-15 26zM1134.2 854.3h30l-15 26zM1136.7 857.7h30l-15 26zM1138.9 863h30l-15 26zM1141.4 866.3h30l-15 26zM1143.7 871h30l-15 26zM1146.1 875h30l-15 26zM1148 881h30l-15 26zM1150.3 885.6h30l-15 26zM1152.9 888.9h30l-15 26zM1155.3 892.8h30l-15 26zM1157.5 897.7h30l-15 26zM1160 901.4h30l-15 26zM1162.3 906h30l-15 26zM1164.6 910.2h30l-15 26zM1166.9 914.7h30l-15 26zM1168.9 920.8h30l-15 26zM1171.2 925.2h30l-15 26zM1173.9 927.7h30l-15 26zM1176.2 932.2h30l-15 26zM1178.5 937h30l-15 26zM1180.8 941.3h30l-15 26zM1183.1 946h30l-15 26zM1185.5 951.4h30l-15 26zM1188.4 954.5h30l-15 26zM1190.7 960.4h30l-15 26zM1193.3 964.7h30l-15 26zM1195.9 969.3h30l-15 26zM1198.6 973.3h30l-15 26zM1201.1 978.2h30l-15 26zM1203.8 982.1h30l-15 26zM1206.7 985.4h30l-15 26zM1208.9 991.6h30l-15 26zM1211.6 995.8h30l-15 26zM1214.7 997.9h30l-15 26zM1217 1003.9h30l-15 26zM1220.1 1006h30l-15 26zM1222.7 1010.6h30l-15 26zM1224.6 1018.3h30l-15 26zM1227.6 1020.8h30l-15 26zM1230.7 1022.9h30l-15 26zM1232.7 1029.8h30l-15 26zM1235.9 1031.2h30l-15 26zM1237.9 1038.7h30l-15 26zM1240.6 1042.5h30l-15 26zM1243.5 1045.4h30l-15 26zM1245.6 1052.2h30l-15 26zM1248.8 1053.8h30l-15 26zM1251.8 1056.2h30l-15 26zM1253.8 1063.6h30l-15 26zM1256.9 1065.1h30l-15 26zM1258.7 1073.4h30l-15 26zM1262 1074.4h30l-15 26zM1264.9 1077.6h30l-15 26zM1267 1084.4h30l-15 26zM1270.3 1085.1h30l-15 26zM1272.1 1093.3h30l-15 26zM1274.7 1098.8h30l-15 26zM1278.8 1101.6h30l-15 26zM1283.7 1099.4h30l-15 26zM1287.6 1104.6h30l-15 26zM1291.5 1109.4h30l-15 26zM1296.2 1108.1h30l-15 26zM1299.7 1116.3h30l-15 26zM1304.4 1115.3h30l-15 26zM1308.1 1121.2h30l-15 26zM1312.6 1121.6h30l-15 26zM1316.9 1123.8h30l-15 26zM1321.1 1126.9h30l-15 26zM1325.2 1129h30l-15 26zM1330.2 1130.5h30l-15 26zM1335.1 1133.2h30l-15 26zM1340.2 1133.4h30l-15 26zM1344.9 1138.9h30l-15 26zM1349.9 1139.7h30l-15 26zM1354.9 1141.2h30l-15 26zM1360.2 1138.8h30l-15 26zM1365.1 1141.9h30l-15 26zM1370.1 1144.4h30l-15 26zM1375.2 1147.6h30l-15 26zM1380.5 1144.9h30l-15 26zM1385.5 1149h30l-15 26zM1390.8 1146.7h30l-15 26zM1395.8 1149.5h30l-15 26zM1401 1147.9h30l-15 26z" fill="#00f"/>
<polyline points="603,1160 626,1100 646,1040 665,966 717,800 727,720 757,600 797,500 831,452 872,419 902,385 925,364 948,362 965,392 984,448 999,500 1040,640 1072,726 1130,845 1185,945 1210,995 1250,1035 1285,1080 1335,1115 1400,1143 1470,1150 1535,1152" fill="none" stroke="#0ff" stroke-width="22" stroke-linejoin="round" stroke-linecap="round"/>
<path d="M588 1160.1l15 -16l15 16l-15 16zM589.5 1154.4l15 -16l15 16l-15 16zM591.6 1151.1l15 -16l15 16l-15 16zM593.1 1145.4l15 -16l15 16l-15 16zM595 1141.2l15 -16l15 16l-15 16zM597 1137.5l15 -16l15 16l-15 16zM598.5 1131.8l15 -16l15 16l-15 16zM600.5 1128l15 -16l15 16l-15 16zM602.4 1124l15 -16l15 16l-15 16zM604 1118.7l15 -16l15 16l-15 16zM605.5 1113l15 -16l15 16l-15 16zM607.6 1109.9l15 -16l15 16l-15 16zM609.2 1104.5l15 -16l15 16l-15 16zM610.9 1099.4l15 -16l15 16l-15 16zM612.4 1094.8l15 -16l15 16l-15 16zM614.1 1091l15 -16l15 16l-15 16zM615.5 1085.6l15 -16l15 16l-15 16zM617 1081l15 -16l15 16l-15 16zM618.8 1077.4l15 -16l15 16l-15 16zM620.3 1072.5l15 -16l15 16l-15 16zM621.7 1067.4l15 -16l15 16l-15 16zM623.4 1063.5l15 -16l15 16l-15 16zM624.7 1058l15 -16l15 16l-15 16zM626.3 1053.5l15 -16l15 16l-15 16zM627.8 1048.6l15 -16l15 16l-15 16zM629.7 1045.6l15 -16l15 16l-15 16zM631.1 1040.6l15 -16l15 16l-15 16zM632 1034.1l15 -16l15 16l-15 16zM633.3 1029.3l15 -16l15 16l-15 16zM634.6 1024.3l15 -16l15 16l-15 16zM636 1020l15 -16l15 16l-15 16zM637.2 1014.7l15 -16l15 16l-15 16zM638.4 1009.6l15 -16l15 16l-15 16zM639.8 1005.2l15 -16l15 16l-15 16zM641.1 1000.2l15 -16l15 16l-15 16zM642.6 996.6l15 -16l15 16l-15 16zM643.8 991.2l15 -16l15 16l-15 16zM644.8 985.3l15 -16l15 16l-15 16zM646.1 980.6l15 -16l15 16l-15 16zM647.4 975.4l15 -16l15 16l-15 16zM648.5 970l15 -16l15 16l-15 16zM649.8 965.3l15 -16l15 16l-15 16zM651.5 961.1l15 -16l15 16l-15 16zM652.8 955.6l15 -16l15 16l-15 16zM654.5 952l15 -16l15 16l-15 16zM656.1 947.8l15 -16l15 16l-15 16zM657.4 942.2l15 -16l15 16l-15 16zM659.1 938.4l15 -16l15 16l-15 16zM660.3 932.6l15 -16l15 16l-15 16zM661.8 927.7l15 -16l15 16l-15 16zM663.3 923l15 -16l15 16l-15 16zM665.1 919.4l15 -16l15 16l-15 16zM666.3 913.4l15 -16l15 16l-15 16zM667.6 908.3l15 -16l15 16l-15 16zM669.1 903.3l15 -16l15 16l-15 16zM670.8 899.7l15 -16l15 16l-15 16zM672.5 895.8l15 -16l15 16l-15 16zM673.7 889.7l15 -16l15 16l-15 16zM675 884.5l15 -16l15 16l-15 16zM676.8 880.9l15 -16l15 16l-15 16zM678.4 876.6l15 -16l15 16l-15 16zM679.9 871.9l15 -16l15 16l-15 16zM681.3 866.7l15 -16l15 16l-15 16zM682.9 862.6l15 -16l15 16l-15 16zM684.4 857.8l15 -16l15 16l-15 16zM685.5 851.6l15 -16l15 16l-15 16zM687.3 848.3l15 -16l15 16l-15 16zM688.6 842.5l15 -16l15 16l-15 16zM690.3 838.8l15 -16l15 16l-15 16zM691.5 832.8l15 -16l15 16l-15 16zM693.3 829.2l15 -16l15 16l-15 16zM694.7 824.4l15 -16l15 16l-15 16zM695.9 818.4l15 -16l15 16l-15 16zM697.8 815.1l15 -16l15 16l-15 16zM699.2 810.4l15 -16l15 16l-15 16zM700.7 805.7l15 -16l15 16l-15 16zM701.8 799.2l15 -16l15 16l-15 16zM702.8 795.8l15 -16l15 16l-15 16zM703.5 790.9l15 -16l15 16l-15 16zM703.8 784.5l15 -16l15 16l-15 16zM704.3 779l15 -16l15 16l-15 16zM705.3 775.6l15 -16l15 16l-15 16zM705.9 770.6l15 -16l15 16l-15 16zM706.5 765.7l15 -16l15 16l-15 16zM706.9 759.5l15 -16l15 16l-15 16zM707.8 755.8l15 -16l15 16l-15 16zM708.4 750.5l15 -16l15 16l-15 16zM709 745.4l15 -16l15 16l-15 16zM709.6 740.6l15 -16l15 16l-15 16zM710.1 734.7l15 -16l15 16l-15 16zM710.6 729.4l15 -16l15 16l-15 16zM711.2 724.4l15 -16l15 16l-15 16zM712.2 721l15 -16l15 16l-15 16zM713.3 715.6l15 -16l15 16l-15 16zM714.6 711.4l15 -16l15 16l-15 16zM715.7 706.2l15 -16l15 16l-15 16zM717.1 701.9l15 -16l15 16l-15 16zM717.7 694.9l15 -16l15 16l-15 16zM719 690.5l15 -16l15 16l-15 16zM720.4 686.4l15 -16l15 16l-15 16zM721.5 681.3l15 -16l15 16l-15 16zM722.6 676l15 -16l15 16l-15 16zM724.3 673.2l15 -16l15 16l-15 16zM724.9 665.8l15 -16l15 16l-15 16zM726.5 662.8l15 -16l15 16l-15 16zM727.9 658.8l15 -16l15 16l-15 16zM728.5 651.8l15 -16l15 16l-15 16zM730.2 649l15 -16l15 16l-15 16zM731.4 644.1l15 -16l15 16l-15 16zM732.8 640l15 -16l15 16l-15 16zM733.2 632l15 -16l15 16l-15 16zM735.1 630l15 -16l15 16l-15 16zM735.9 623.7l15 -16l15 16l-15 16zM736.9 617.9l15 -16l15 16l-15 16zM738.6 615.3l15 -16l15 16l-15 16zM739.2 608l15 -16l15 16l-15 16zM740.9 605.1l15 -16l15 16l-15 16zM742.3 601.3l15 -16l15 16l-15 16zM743.4 593.5l15 -16l15 16l-15 16zM745.8 591.5l15 -16l15 16l-15 16zM747 584.4l15 -16l15 16l-15 16zM748.9 580.1l15 -16l15 16l-15 16zM751.4 578.8l15 -16l15 16l-15 16zM752.7 571.8l15 -16l15 16l-15 16zM754.5 567l15 -16l15 16l-15 16zM756.9 565.2l15 -16l15 16l-15 16zM758.7 560.4l15 -16l15 16l-15 16zM760.6 556.1l15 -16l15 16l-15 16zM762.2 551l15 -16l15 16l-15 16zM764.2 547.2l15 -16l15 16l-15 16zM766.1 542.8l15 -16l15 16l-15 16zM767.1 535l15 -16l15 16l-15 16zM769.1 531.1l15 -16l15 16l-15 16zM770.7 525.7l15 -16l15 16l-15 16zM772.6 521.3l15 -16l15 16l-15 16zM775.1 519.9l15 -16l15 16l-15 16zM777 515.6l15 -16l15 16l-15 16zM778.2 508.2l15 -16l15 16l-15 16zM780.4 505.3l15 -16l15 16l-15 16zM782.4 501.9l15 -16l15 16l-15 16zM784.9 496.5l15 -16l15 16l-15 16zM787.9 493.1l15 -16l15 16l-15 16zM790.7 489.1l15 -16l15 16l-15 16zM793.5 484.9l15 -16l15 16l-15 16zM795.8 478.1l15 -16l15 16l-15 16zM799.3 477.3l15 -16l15 16l-15 16zM802.1 473.5l15 -16l15 16l-15 16zM804.7 468.3l15 -16l15 16l-15 16zM807.8 465.7l15 -16l15 16l-15 16zM810.7 461.6l15 -16l15 16l-15 16zM813.5 457.7l15 -16l15 16l-15 16zM816.2 453.1l15 -16l15 16l-15 16zM819.9 450.4l15 -16l15 16l-15 16zM823.7 447.8l15 -16l15 16l-15 16zM827 442.1l15 -16l15 16l-15 16zM830.9 439.7l15 -16l15 16l-15 16zM834.8 438.1l15 -16l15 16l-15 16zM838.5 434.9l15 -16l15 16l-15 16zM841.8 429.1l15 -16l15 16l-15 16zM845.6 426.3l15 -16l15 16l-15 16zM849.8 426.8l15 -16l15 16l-15 16zM853 420.1l15 -16l15 16l-15 16zM856.7 417.5l15 -16l15 16l-15 16zM860 413.5l15 -16l15 16l-15 16zM864 413.2l15 -16l15 16l-15 16zM867.2 408.8l15 -16l15 16l-15 16zM870.7 405.6l15 -16l15 16l-15 16zM874 401.9l15 -16l15 16l-15 16zM876.7 395l15 -16l15 16l-15 16zM880.6 394.1l15 -16l15 16l-15 16zM883.8 389.4l15 -16l15 16l-15 16zM887.3 386.6l15 -16l15 16l-15 16zM890.9 381.9l15 -16l15 16l-15 16zM894.4 376.2l15 -16l15 16l-15 16zM898.3 373.1l15 -16l15 16l-15 16zM902.5 371.8l15 -16l15 16l-15 16zM906.5 369.2l15 -16l15 16l-15 16zM910 363.4l15 -16l15 16l-15 16zM914.6 362.4l15 -16l15 16l-15 16zM919.2 364.7l15 -16l15 16l-15 16zM923.8 364.1l15 -16l15 16l-15 16zM928.4 361.5l15 -16l15 16l-15 16zM932.8 362.7l15 -16l15 16l-15 16zM935.3 367.1l15 -16l15 16l-15 16zM937.7 371.3l15 -16l15 16l-15 16zM940.4 374.4l15 -16l15 16l-15 16zM942.5 379.9l15 -16l15 16l-15 16zM945.3 382.9l15 -16l15 16l-15 16zM947.6 387.4l15 -16l15 16l-15 16zM949.9 392.4l15 -16l15 16l-15 16zM951.4 397.4l15 -16l15 16l-15 16zM953.3 400.7l15 -16l15 16l-15 16zM955 405l15 -16l15 16l-15 16zM956.4 410.5l15 -16l15 16l-15 16zM957.9 415.6l15 -16l15 16l-15 16zM959.6 419.5l15 -16l15 16l-15 16zM960.9 425.6l15 -16l15 16l-15 16zM962.8 428.9l15 -16l15 16l-15 16zM964.4 433.5l15 -16l15 16l-15 16zM965.9 438.3l15 -16l15 16l-15 16zM967.4 443.2l15 -16l15 16l-15 16zM968.9 448.6l15 -16l15 16l-15 16zM970.6 451.8l15 -16l15 16l-15 16zM971.5 458.3l15 -16l15 16l-15 16zM973.2 461.6l15 -16l15 16l-15 16zM974.4 467.3l15 -16l15 16l-15 16zM976 470.8l15 -16l15 16l-15 16zM977 477.1l15 -16l15 16l-15 16zM978.5 481.3l15 -16l15 16l-15 16zM979.7 486.5l15 -16l15 16l-15 16zM981.1 491.2l15 -16l15 16l-15 16zM982.5 495.6l15 -16l15 16l-15 16zM984.1 499.7l15 -16l15 16l-15 16zM985.5 504.4l15 -16l15 16l-15 16zM986.9 509.4l15 -16l15 16l-15 16zM988.4 513.9l15 -16l15 16l-15 16zM989.9 518.4l15 -16l15 16l-15 16zM991.3 523.3l15 -16l15 16l-15 16zM992.7 528.3l15 -16l15 16l-15 16zM993.7 534.6l15 -16l15 16l-15 16zM995.5 537.7l15 -16l15 16l-15 16zM996.8 543.3l15 -16l15 16l-15 16zM998.3 547.7l15 -16l15 16l-15 16zM999.4 553.8l15 -16l15 16l-15 16zM1001.1 557.2l15 -16l15 16l-15 16zM1002.1 563.8l15 -16l15 16l-15 16zM1003.7 567.8l15 -16l15 16l-15 16zM1005.4 571.6l15 -16l15 16l-15 16zM1006.4 578.2l15 -16l15 16l-15 16zM1007.8 582.9l15 -16l15 16l-15 16zM1009.4 587.2l15 -16l15 16l-15 16zM1011 591.2l15 -16l15 16l-15 16zM1012.1 597.2l15 -16l15 16l-15 16zM1013.9 600.4l15 -16l15 16l-15 16zM1014.9 606.8l15 -16l15 16l-15 16zM1016.7 610.1l15 -16l15 16l-15 16zM1017.8 616.5l15 -16l15 16l-15 16zM1019.5 620.2l15 -16l15 16l-15 16zM1021 624.6l15 -16l15 16l-15 16zM1022.4 629.5l15 -16l15 16l-15 16zM1023.4 636l15 -16l15 16l-15 16zM1024.9 640.3l15 -16l15 16l-15 16zM1026.7 645.1l15 -16l15 16l-15 16zM1028.6 649.3l15 -16l15 16l-15 16zM1030.3 654.4l15 -16l15 16l-15 16zM1032.3 658.5l15 -16l15 16l-15 16zM1034 663.5l15 -16l15 16l-15 16zM1035.9 667.8l15 -16l15 16l-15 16zM1037.3 674.2l15 -16l15 16l-15 16zM1039.1 678.9l15 -16l15 16l-15 16zM1041 682.9l15 -16l15 16l-15 16zM1043 686.8l15 -16l15 16l-15 16zM1044.3 693.5l15 -16l15 16l-15 16zM1046.5 696.6l15 -16l15 16l-15 16zM1048.3 701.1l15 -16l15 16l-15 16zM1049.7 707.5l15 -16l15 16l-15 16zM1051.5 712.5l15 -16l15 16l-15 16zM1053.7 715.5l15 -16l15 16l-15 16zM1055.4 720.6l15 -16l15 16l-15 16zM1057.2 725.2l15 -16l15 16l-15 16zM1059.1 731.4l15 -16l15 16l-15 16zM1061.3 735.9l15 -16l15 16l-15 16zM1063.9 738.8l15 -16l15 16l-15 16zM1065.9 744.5l15 -16l15 16l-15 16zM1068.4 748l15 -16l15 16l-15 16zM1070.4 753.4l15 -16l15 16l-15 16zM1072.8 757.3l15 -16l15 16l-15 16zM1074.9 762.2l15 -16l15 16l-15 16zM1077.3 766.3l15 -16l15 16l-15 16zM1079.4 771.1l15 -16l15 16l-15 16zM1081.4 776.8l15 -16l15 16l-15 16zM1084 780.1l15 -16l15 16l-15 16zM1086.2 784.5l15 -16l15 16l-15 16zM1088.1 790.5l15 -16l15 16l-15 16zM1090.6 794l15 -16l15 16l-15 16zM1092.5 800.1l15 -16l15 16l-15 16zM1095.1 803l15 -16l15 16l-15 16zM1097.2 808l15 -16l15 16l-15 16zM1099.6 812.2l15 -16l15 16l-15 16zM1101.6 817.8l15 -16l15 16l-15 16zM1103.6 823.1l15 -16l15 16l-15 16zM1106.1 826.5l15 -16l15 16l-15 16zM1108.5 830.6l15 -16l15 16l-15 16zM1110.7 835.2l15 -16l15 16l-15 16zM1113 839.6l15 -16l15 16l-15 16zM1114.9 845.6l15 -16l15 16l-15 16zM1117.5 848.6l15 -16l15 16l-15 16zM1119.8 853.6l15 -16l15 16l-15 16zM1122.1 858.4l15 -16l15 16l-15 16zM1124.7 861.6l15 -16l15 16l-15 16zM1127.1 866l15 -16l15 16l-15 16zM1129.5 870.4l15 -16l15 16l-15 16zM1131.6 876.2l15 -16l15 16l-15 16zM1134.3 879l15 -16l15 16l-15 16zM1136.6 883.9l15 -16l15 16l-15 16zM1138.8 889l15 -16l15 16l-15 16zM1141.2 893.1l15 -16l15 16l-15 16zM1143.5 898l15 -16l15 16l-15 16zM1146.1 901.3l15 -16l15 16l-15 16zM1148.5 905.6l15 -16l15 16l-15 16zM1151 909.5l15 -16l15 16l-15 16zM1153 915.6l15 -16l15 16l-15 16zM1155.9 918l15 -16l15 16l-15 16zM1158.3 922.3l15 -16l15 16l-15 16zM1160.6 926.8l15 -16l15 16l-15 16zM1163 931.2l15 -16l15 16l-15 16zM1165.4 935.4l15 -16l15 16l-15 16zM1167.4 941.5l15 -16l15 16l-15 16zM1170.1 944.6l15 -16l15 16l-15 16zM1172.1 950.2l15 -16l15 16l-15 16zM1174.7 953.6l15 -16l15 16l-15 16zM1176.6 959.8l15 -16l15 16l-15 16zM1179.2 962.5l15 -16l15 16l-15 16zM1181.5 967.2l15 -16l15 16l-15 16zM1184 970.7l15 -16l15 16l-15 16zM1185.6 978.2l15 -16l15 16l-15 16zM1188 982.2l15 -16l15 16l-15 16zM1190.5 985.8l15 -16l15 16l-15 16zM1193 989.5l15 -16l15 16l-15 16zM1194.7 996.9l15 -16l15 16l-15 16zM1198.6 998.7l15 -16l15 16l-15 16zM1202.6 1000.4l15 -16l15 16l-15 16zM1206.2 1004.5l15 -16l15 16l-15 16zM1209.6 1009.3l15 -16l15 16l-15 16zM1213 1014.4l15 -16l15 16l-15 16zM1216.6 1017.9l15 -16l15 16l-15 16zM1220.8 1018.5l15 -16l15 16l-15 16zM1224.2 1023.3l15 -16l15 16l-15 16zM1228 1026.2l15 -16l15 16l-15 16zM1231.7 1029.4l15 -16l15 16l-15 16zM1234.6 1036.9l15 -16l15 16l-15 16zM1238.5 1037.5l15 -16l15 16l-15 16zM1241.6 1042.1l15 -16l15 16l-15 16zM1244.9 1045.4l15 -16l15 16l-15 16zM1247.3 1053.3l15 -16l15 16l-15 16zM1251.3 1053.6l15 -16l15 16l-15 16zM1254.5 1057.5l15 -16l15 16l-15 16zM1256.8 1065.9l15 -16l15 16l-15 16zM1260.7 1066.3l15 -16l15 16l-15 16zM1263.8 1071.1l15 -16l15 16l-15 16zM1267.3 1073.7l15 -16l15 16l-15 16zM1270.3 1077.7l15 -16l15 16l-15 16zM1274.5 1080.5l15 -16l15 16l-15 16zM1278.2 1086.5l15 -16l15 16l-15 16zM1282.8 1086.7l15 -16l15 16l-15 16zM1286.9 1090l15 -16l15 16l-15 16zM1291.1 1092.5l15 -16l15 16l-15 16zM1294.7 1099.8l15 -16l15 16l-15 16zM1298.8 1103.3l15 -16l15 16l-15 16zM1303.2 1104.4l15 -16l15 16l-15 16zM1307.7 1104.9l15 -16l15 16l-15 16zM1311.4 1110.9l15 -16l15 16l-15 16zM1316.1 1110.2l15 -16l15 16l-15 16zM1320.3 1112.3l15 -16l15 16l-15 16zM1324.5 1118.6l15 -16l15 16l-15 16zM1329.3 1118.6l15 -16l15 16l-15 16zM1334 1120.2l15 -16l15 16l-15 16zM1338.8 1120.4l15 -16l15 16l-15 16zM1343.1 1126.4l15 -16l15 16l-15 16zM1348.1 1124.3l15 -16l15 16l-15 16zM1352.8 1126.2l15 -16l15 16l-15 16zM1357.4 1128.4l15 -16l15 16l-15 16zM1361.6 1135.3l15 -16l15 16l-15 16zM1366.5 1134.5l15 -16l15 16l-15 16zM1371 1137.7l15 -16l15 16l-15 16zM1375.9 1137.3l15 -16l15 16l-15 16zM1380.6 1138.9l15 -16l15 16l-15 16zM1385 1142.4l15 -16l15 16l-15 16zM1390 1143.7l15 -16l15 16l-15 16zM1395.1 1141l15 -16l15 16l-15 16zM1400 1146.3l15 -16l15 16l-15 16zM1405 1144l15 -16l15 16l-15 16zM1410 1147.4l15 -16l15 16l-15 16zM1415.1 1143.7l15 -16l15 16l-15 16zM1420.1 1143.3l15 -16l15 16l-15 16zM1425 1145.3l15 -16l15 16l-15 16zM1429.9 1151l15 -16l15 16l-15 16zM1435 1146.5l15 -16l15 16l-15 16zM1440.1 1145l15 -16l15 16l-15 16zM1444.9 1152.5l15 -16l15 16l-15 16zM1450.1 1146.5l15 -16l15 16l-15 16zM1455 1151.8l15 -16l15 16l-15 16zM1460 1149.5l15 -16l15 16l-15 16zM1465 1153.9l15 -16l15 16l-15 16zM1470 1148.6l15 -16l15 16l-15 16zM1475 1153.1l15 -16l15 16l-15 16zM1480 1149.7l15 -16l15 16l-15 16zM1485 1151.9l15 -16l15 16l-15 16zM1490 1148.5l15 -16l15 16l-15 16zM1495 1147.5l15 -16l15 16l-15 16zM1500 1153.8l15 -16l15 16l-15 16zM1505 1150.1l15 -16l15 16l-15 16zM1510 1153.9l15 -16l15 16l-15 16zM1515 1153.5l15 -16l15 16l-15 16zM1520 1154.8l15 -16l15 16l-15 16z" fill="#0ff"/>
<polyline points="648,1160 662,1100 679,1050 700,966 745,800 778,720 830,610 884,500 907,454 931,403 949,368 966,352 980,352 993,372 1008,413 1023,464 1032,500 1071,600 1134,726 1191,845 1251,966 1272,1010 1312,1052 1368,1098 1420,1125 1455,1143 1466,1153" fill="none" stroke="#f0f" stroke-width="22" stroke-linejoin="round" stroke-linecap="round"/>
<path d="M656.5 1144.3v30l-26 -15zM658 1140.8v30l-26 -15zM659.1 1135.3v30l-26 -15zM660.3 1130.7v30l-26 -15zM661.2 1124.3v30l-26 -15zM662.6 1120.4v30l-26 -15zM663.5 1114.4v30l-26 -15zM665.1 1111v30l-26 -15zM666.2 1105.9v30l-26 -15zM667.1 1099.8v30l-26 -15zM668.5 1095.8v30l-26 -15zM669.4 1089.6v30l-26 -15zM670.7 1085.2v30l-26 -15zM672.4 1081.1v30l-26 -15zM673.6 1075.2v30l-26 -15zM675.1 1070.6v30l-26 -15zM676.7 1066.1v30l-26 -15zM678.2 1061.4v30l-26 -15zM679.8 1057v30l-26 -15zM681.4 1052.6v30l-26 -15zM683.2 1049.5v30l-26 -15zM684.8 1044.9v30l-26 -15zM685.9 1038.7v30l-26 -15zM687.5 1034.3v30l-26 -15zM688.7 1029.4v30l-26 -15zM690 1024.6v30l-26 -15zM691.1 1019.1v30l-26 -15zM692.9 1016.3v30l-26 -15zM693.5 1009v30l-26 -15zM695.1 1005.5v30l-26 -15zM696.3 1000.3v30l-26 -15zM697.7 996.1v30l-26 -15zM699 991.4v30l-26 -15zM700.3 986.8v30l-26 -15zM701 979.4v30l-26 -15zM702.3 975.1v30l-26 -15zM703.9 971.4v30l-26 -15zM705.2 966.7v30l-26 -15zM706.3 961.1v30l-26 -15zM707.2 954.9v30l-26 -15zM708.3 949.6v30l-26 -15zM709.8 945.3v30l-26 -15zM711.2 940.6v30l-26 -15zM713 937.9v30l-26 -15zM714.3 933v30l-26 -15zM715.4 927.2v30l-26 -15zM716.2 920.2v30l-26 -15zM718.5 919v30l-26 -15zM718.7 909.8v30l-26 -15zM720.2 905.4v30l-26 -15zM721.7 901.4v30l-26 -15zM723.4 898.1v30l-26 -15zM725 894.5v30l-26 -15zM726.4 889.7v30l-26 -15zM726.7 880.4v30l-26 -15zM729.1 880.2v30l-26 -15zM730 873.5v30l-26 -15zM731.7 870.4v30l-26 -15zM731.9 860.6v30l-26 -15zM733.9 858.8v30l-26 -15zM734.6 851v30l-26 -15zM736.6 849v30l-26 -15zM738.4 846v30l-26 -15zM738.7 837.1v30l-26 -15zM740.9 835.9v30l-26 -15zM742.4 831.5v30l-26 -15zM742.7 822.4v30l-26 -15zM744.9 821.2v30l-26 -15zM745.1 811.7v30l-26 -15zM747.6 811.6v30l-26 -15zM748.8 806.1v30l-26 -15zM750.3 802v30l-26 -15zM750.4 792.4v30l-26 -15zM751.8 787.6v30l-26 -15zM753.9 786.2v30l-26 -15zM756.2 782.9v30l-26 -15zM757.1 773.7v30l-26 -15zM760 773.3v30l-26 -15zM761 764.3v30l-26 -15zM764 764.1v30l-26 -15zM764.6 753.8v30l-26 -15zM766.6 749.1v30l-26 -15zM768.7 745.3v30l-26 -15zM771.8 745.6v30l-26 -15zM772.7 736.3v30l-26 -15zM775.4 734.9v30l-26 -15zM777.6 731.1v30l-26 -15zM778.2 720.8v30l-26 -15zM780.2 716.3v30l-26 -15zM782.7 714v30l-26 -15zM784.1 706.9v30l-26 -15zM787.2 707.3v30l-26 -15zM789.3 702.6v30l-26 -15zM791.5 698v30l-26 -15zM793.5 692.8v30l-26 -15zM795.7 688.2v30l-26 -15zM798 684.5v30l-26 -15zM799.3 675.8v30l-26 -15zM801.2 670v30l-26 -15zM804.6 671v30l-26 -15zM805.7 661.5v30l-26 -15zM808 657.5v30l-26 -15zM811 656.9v30l-26 -15zM812.1 647.3v30l-26 -15zM815.4 648.1v30l-26 -15zM816.7 639.7v30l-26 -15zM818.7 634.1v30l-26 -15zM821.9 634.1v30l-26 -15zM823.6 627.4v30l-26 -15zM825.1 619.8v30l-26 -15zM827.3 615.5v30l-26 -15zM829.8 612.3v30l-26 -15zM831.9 607.4v30l-26 -15zM834.3 603.9v30l-26 -15zM836.3 598.9v30l-26 -15zM838 592.1v30l-26 -15zM840.4 588.7v30l-26 -15zM842.5 584.2v30l-26 -15zM845.5 583.2v30l-26 -15zM847.9 580.2v30l-26 -15zM849.6 573.5v30l-26 -15zM851.3 567.3v30l-26 -15zM853.9 564.9v30l-26 -15zM855.4 557.4v30l-26 -15zM858.3 556.3v30l-26 -15zM860.6 552.6v30l-26 -15zM862.6 547.5v30l-26 -15zM864 539.7v30l-26 -15zM867.1 539.5v30l-26 -15zM868.6 532.2v30l-26 -15zM870.5 526.4v30l-26 -15zM873.1 524v30l-26 -15zM875.1 519.1v30l-26 -15zM878.1 518.4v30l-26 -15zM879.2 509.1v30l-26 -15zM882.3 509.1v30l-26 -15zM884 502.4v30l-26 -15zM886 497.4v30l-26 -15zM888.6 495.1v30l-26 -15zM891 491.4v30l-26 -15zM893.2 487.5v30l-26 -15zM894.7 479.2v30l-26 -15zM897 474.6v30l-26 -15zM899.8 472.4v30l-26 -15zM902.4 468.8v30l-26 -15zM903.9 460.8v30l-26 -15zM907.1 460.4v30l-26 -15zM909 453.7v30l-26 -15zM910.8 447v30l-26 -15zM914 446.3v30l-26 -15zM916.1 440.7v30l-26 -15zM918 434.9v30l-26 -15zM920.2 430.4v30l-26 -15zM921.9 423.6v30l-26 -15zM924.2 419.5v30l-26 -15zM926.1 413.9v30l-26 -15zM928.4 409.7v30l-26 -15zM931.5 408.9v30l-26 -15zM933.6 404v30l-26 -15zM935.1 396.5v30l-26 -15zM937 390.4v30l-26 -15zM940.1 389.9v30l-26 -15zM942.5 386.1v30l-26 -15zM943.8 377.5v30l-26 -15zM947 377.4v30l-26 -15zM949.1 372.6v30l-26 -15zM951.3 367.8v30l-26 -15zM953.5 363.4v30l-26 -15zM955 355.6v30l-26 -15zM957.4 351.5v30l-26 -15zM961.2 350.4v30l-26 -15zM964.4 346.2v30l-26 -15zM967.7 342.4v30l-26 -15zM971 338.4v30l-26 -15zM974.7 338.2v30l-26 -15zM979.3 336.5v30l-26 -15zM984 335.9v30l-26 -15zM988.7 336.9v30l-26 -15zM991.4 340.3v30l-26 -15zM994 344.5v30l-26 -15zM996.4 349.3v30l-26 -15zM999.2 352.4v30l-26 -15zM1001.5 357.8v30l-26 -15zM1003.3 361.8v30l-26 -15zM1005.1 365.5v30l-26 -15zM1006.7 370.4v30l-26 -15zM1008.2 375.9v30l-26 -15zM1010.2 379v30l-26 -15zM1011.5 385.2v30l-26 -15zM1013.1 389.7v30l-26 -15zM1015.2 392.6v30l-26 -15zM1016.6 398.3v30l-26 -15zM1017.8 403.5v30l-26 -15zM1019.5 406.8v30l-26 -15zM1020.5 412.8v30l-26 -15zM1022.4 415.6v30l-26 -15zM1023.4 421.7v30l-26 -15zM1024.7 426.6v30l-26 -15zM1026.2 430.6v30l-26 -15zM1027.8 434.2v30l-26 -15zM1028.9 439.8v30l-26 -15zM1030.1 445.1v30l-26 -15zM1031.9 448v30l-26 -15zM1032.9 454.6v30l-26 -15zM1034 460.2v30l-26 -15zM1035.3 465.4v30l-26 -15zM1036.7 470.1v30l-26 -15zM1038 475.3v30l-26 -15zM1039.3 480.1v30l-26 -15zM1040.7 484.9v30l-26 -15zM1042.3 490.6v30l-26 -15zM1044.6 493.6v30l-26 -15zM1046.5 498.3v30l-26 -15zM1048.3 503.2v30l-26 -15zM1049.9 509.2v30l-26 -15zM1051.7 514.1v30l-26 -15zM1053.6 518.6v30l-26 -15zM1055.3 523.9v30l-26 -15zM1057.5 527.3v30l-26 -15zM1059.4 531.7v30l-26 -15zM1061.3 536.5v30l-26 -15zM1063.2 541.3v30l-26 -15zM1064.6 547.9v30l-26 -15zM1066.5 552.5v30l-26 -15zM1068.7 555.6v30l-26 -15zM1070.3 561.6v30l-26 -15zM1072.3 565.7v30l-26 -15zM1074.3 569.8v30l-26 -15zM1076 575.1v30l-26 -15zM1078 579.5v30l-26 -15zM1079.5 585.8v30l-26 -15zM1082.1 588.6v30l-26 -15zM1084.1 594.5v30l-26 -15zM1086.2 599.5v30l-26 -15zM1088.5 603.8v30l-26 -15zM1090.8 608v30l-26 -15zM1093 612.8v30l-26 -15zM1095.2 617.3v30l-26 -15zM1097.5 621.7v30l-26 -15zM1100.1 624.8v30l-26 -15zM1102.3 629.4v30l-26 -15zM1104.4 634.6v30l-26 -15zM1106.8 638.6v30l-26 -15zM1108.8 644.2v30l-26 -15zM1111.3 647.2v30l-26 -15zM1113.6 651.9v30l-26 -15zM1115.6 657.1v30l-26 -15zM1118.1 660.9v30l-26 -15zM1120.2 665.6v30l-26 -15zM1122.2 671.4v30l-26 -15zM1124.6 675.3v30l-26 -15zM1127 679.1v30l-26 -15zM1129.1 684.3v30l-26 -15zM1131.6 687.5v30l-26 -15zM1133.8 692.5v30l-26 -15zM1135.8 698.2v30l-26 -15zM1138.3 701.3v30l-26 -15zM1140.6 705.7v30l-26 -15zM1142.8 710.3v30l-26 -15zM1144.6 716.6v30l-26 -15zM1147.1 719.8v30l-26 -15zM1149.5 723.8v30l-26 -15zM1151.4 729.5v30l-26 -15zM1153.7 733.5v30l-26 -15zM1156 737.5v30l-26 -15zM1158.2 742.4v30l-26 -15zM1160.4 746.9v30l-26 -15zM1162.5 751.9v30l-26 -15zM1164.4 757.6v30l-26 -15zM1166.7 761.6v30l-26 -15zM1168.8 766.7v30l-26 -15zM1171.3 769.9v30l-26 -15zM1173.3 775.3v30l-26 -15zM1175.7 778.8v30l-26 -15zM1177.9 783.4v30l-26 -15zM1180.1 788.1v30l-26 -15zM1182.3 792.7v30l-26 -15zM1184.4 797.5v30l-26 -15zM1186.7 801.6v30l-26 -15zM1188.9 806.1v30l-26 -15zM1191.1 810.9v30l-26 -15zM1193.2 815.8v30l-26 -15zM1195.1 821.8v30l-26 -15zM1197.6 824.8v30l-26 -15zM1199.8 829.4v30l-26 -15zM1202.1 833.5v30l-26 -15zM1204 839.3v30l-26 -15zM1206.2 843.8v30l-26 -15zM1208.8 846.8v30l-26 -15zM1210.6 853.1v30l-26 -15zM1213.3 855.7v30l-26 -15zM1215.3 860.9v30l-26 -15zM1217.3 866.6v30l-26 -15zM1219.5 871v30l-26 -15zM1222.1 873.8v30l-26 -15zM1224 879.6v30l-26 -15zM1226.6 882.7v30l-26 -15zM1228.8 887.3v30l-26 -15zM1231 891.8v30l-26 -15zM1232.7 898.6v30l-26 -15zM1235 902.7v30l-26 -15zM1237.2 907.2v30l-26 -15zM1239.9 909.6v30l-26 -15zM1242.1 914v30l-26 -15zM1244.2 919.3v30l-26 -15zM1245.9 925.9v30l-26 -15zM1248.5 929v30l-26 -15zM1250.6 934v30l-26 -15zM1252.7 939v30l-26 -15zM1254.8 943.8v30l-26 -15zM1257.5 946.2v30l-26 -15zM1259.4 952.1v30l-26 -15zM1261.3 957.3v30l-26 -15zM1263.7 960.5v30l-26 -15zM1266.4 962.3v30l-26 -15zM1268.4 967.1v30l-26 -15zM1269.8 974.7v30l-26 -15zM1272.5 976.4v30l-26 -15zM1274.7 980.4v30l-26 -15zM1276.1 987.7v30l-26 -15zM1278.4 991.1v30l-26 -15zM1280.9 993.5v30l-26 -15zM1283.8 999.7v30l-26 -15zM1287.1 1003.1v30l-26 -15zM1290.9 1004.4v30l-26 -15zM1293.7 1010.5v30l-26 -15zM1297.2 1013v30l-26 -15zM1300.5 1017.1v30l-26 -15zM1304 1019.7v30l-26 -15zM1307.3 1023.4v30l-26 -15zM1310.8 1025.6v30l-26 -15zM1313.8 1030.9v30l-26 -15zM1317.2 1034.2v30l-26 -15zM1320.6 1037.2v30l-26 -15zM1324.8 1039.5v30l-26 -15zM1328.8 1042.9v30l-26 -15zM1332.8 1046.1v30l-26 -15zM1336.5 1051v30l-26 -15zM1341 1051.5v30l-26 -15zM1344.9 1055v30l-26 -15zM1348.9 1058.8v30l-26 -15zM1352.7 1063v30l-26 -15zM1356.4 1068.4v30l-26 -15zM1360.5 1071v30l-26 -15zM1364.9 1071.7v30l-26 -15zM1368.6 1076.7v30l-26 -15zM1372.8 1079v30l-26 -15zM1376.7 1082.8v30l-26 -15zM1381.1 1084.7v30l-26 -15zM1385.4 1086.9v30l-26 -15zM1389.9 1088.1v30l-26 -15zM1394.1 1090.7v30l-26 -15zM1398.2 1095.5v30l-26 -15zM1402.5 1097.6v30l-26 -15zM1407.2 1097.1v30l-26 -15zM1411.6 1098.3v30l-26 -15zM1415.8 1102.3v30l-26 -15zM1420.3 1103v30l-26 -15zM1424.5 1106v30l-26 -15zM1429 1107.4v30l-26 -15zM1433.3 1110.4v30l-26 -15zM1437.7 1112.3v30l-26 -15zM1441.5 1119.1v30l-26 -15zM1446.5 1116.3v30l-26 -15zM1450.8 1119.3v30l-26 -15zM1454.8 1124.5v30l-26 -15zM1459.5 1123.8v30l-26 -15zM1464.1 1125.3v30l-26 -15zM1467.1 1132.9v30l-26 -15zM1471.3 1133v30l-26 -15zM1474.7 1139v30l-26 -15zM1553.7 1135v30l-26 -15zM1560.7 1131v30l-26 -15zM1566.7 1135v30l-26 -15zM1558.7 1127v30l-26 -15z" fill="#f0f"/>
<path d="M627 1158L644 1050" stroke="#ff0" stroke-width="22.4" stroke-linecap="round" fill="none"/>
<path d="M644 1050L671 966" stroke="#ff0" stroke-width="23.1" stroke-linecap="round" fill="none"/>
<path d="M671 966L700 800" stroke="#ff0" stroke-width="22.6" stroke-linecap="round" fill="none"/>
<path d="M700 800L711 720" stroke="#ff0" stroke-width="22.3" stroke-linecap="round" fill="none"/>
<path d="M711 720L728 600" stroke="#ff0" stroke-width="22.4" stroke-linecap="round" fill="none"/>
<path d="M728 600L757 500" stroke="#ff0" stroke-width="23.2" stroke-linecap="round" fill="none"/>
<path d="M757 500L775 430" stroke="#ff0" stroke-width="23.6" stroke-linecap="round" fill="none"/>
<path d="M775 430L788 395" stroke="#ff0" stroke-width="25.6" stroke-linecap="round" fill="none"/>
<path d="M788 395L797 376" stroke="#ff0" stroke-width="29.5" stroke-linecap="round" fill="none"/>
<path d="M797 376L804 372" stroke="#ff0" stroke-width="44.9" stroke-linecap="round" fill="none"/>
<path d="M804 372L813 374" stroke="#ff0" stroke-width="50.1" stroke-linecap="round" fill="none"/>
<path d="M813 374L823 376" stroke="#ff0" stroke-width="44" stroke-linecap="round" fill="none"/>
<path d="M823 376L835 366" stroke="#ff0" stroke-width="35.5" stroke-linecap="round" fill="none"/>
<path d="M835 366L848 358" stroke="#ff0" stroke-width="36.3" stroke-linecap="round" fill="none"/>
<path d="M848 358L862 352" stroke="#ff0" stroke-width="37.4" stroke-linecap="round" fill="none"/>
<path d="M862 352L880 337" stroke="#ff0" stroke-width="36.1" stroke-linecap="round" fill="none"/>
<path d="M880 337L900 320" stroke="#ff0" stroke-width="36.6" stroke-linecap="round" fill="none"/>
<path d="M900 320L925 316" stroke="#ff0" stroke-width="38.2" stroke-linecap="round" fill="none"/>
<path d="M925 316L950 309" stroke="#ff0" stroke-width="36.3" stroke-linecap="round" fill="none"/>
<path d="M950 309L965 311" stroke="#ff0" stroke-width="35.5" stroke-linecap="round" fill="none"/>
<path d="M965 311L975 330" stroke="#ff0" stroke-width="25.7" stroke-linecap="round" fill="none"/>
<path d="M975 330L982 372" stroke="#ff0" stroke-width="22.7" stroke-linecap="round" fill="none"/>
<path d="M982 372L991 420" stroke="#ff0" stroke-width="22.7" stroke-linecap="round" fill="none"/>
<path d="M991 420L1003 457" stroke="#ff0" stroke-width="23.2" stroke-linecap="round" fill="none"/>
<path d="M1003 457L1014 500" stroke="#ff0" stroke-width="22.9" stroke-linecap="round" fill="none"/>
<path d="M1014 500L1062 726" stroke="#ff0" stroke-width="22.7" stroke-linecap="round" fill="none"/>
<path d="M1062 726L1090 790" stroke="#ff0" stroke-width="24.1" stroke-linecap="round" fill="none"/>
<path d="M1090 790L1123 845" stroke="#ff0" stroke-width="26.5" stroke-linecap="round" fill="none"/>
<path d="M1123 845L1150 900" stroke="#ff0" stroke-width="26.2" stroke-linecap="round" fill="none"/>
<path d="M1150 900L1178 950" stroke="#ff0" stroke-width="25.5" stroke-linecap="round" fill="none"/>
<path d="M1178 950L1211 1000" stroke="#ff0" stroke-width="26.4" stroke-linecap="round" fill="none"/>
<path d="M1211 1000L1235 1050" stroke="#ff0" stroke-width="27.5" stroke-linecap="round" fill="none"/>
<path d="M1235 1050L1262 1100" stroke="#ff0" stroke-width="29.6" stroke-linecap="round" fill="none"/>
<path d="M1262 1100L1290 1134" stroke="#ff0" stroke-width="32.7" stroke-linecap="round" fill="none"/>
<path d="M1290 1134L1320 1142" stroke="#ff0" stroke-width="37.5" stroke-linecap="round" fill="none"/>
<path d="M1320 1142L1350 1148" stroke="#ff0" stroke-width="33.8" stroke-linecap="round" fill="none"/>
<path d="M1350 1148L1380 1152" stroke="#ff0" stroke-width="29.9" stroke-linecap="round" fill="none"/>
<path d="M1380 1152L1403 1154" stroke="#ff0" stroke-width="27.2" stroke-linecap="round" fill="none"/>
<path d="M618.5 1145.9v28l27 -14zM618.5 1138v28l27 -14zM619.7 1135v28l27 -14zM619.8 1127.3v28l27 -14zM620.5 1122v28l27 -14zM622.2 1120.7v28l27 -14zM623.2 1116.8v28l27 -14zM623.6 1110.5v28l27 -14zM624.8 1107.4v28l27 -14zM624.5 1098v28l27 -14zM625.5 1094v28l27 -14zM626 1087.9v28l27 -14zM627.8 1087.3v28l27 -14zM628.7 1082.8v28l27 -14zM628.6 1074.5v28l27 -14zM629.4 1069.5v28l27 -14zM631.2 1068.6v28l27 -14zM631.7 1062.7v28l27 -14zM632.1 1056.4v28l27 -14zM633.4 1053.6v28l27 -14zM633.3 1045.3v28l27 -14zM634.6 1042.5v28l27 -14zM635.4 1037.9v28l27 -14zM636.9 1032.9v28l27 -14zM638.8 1030.2v28l27 -14zM640.1 1024.6v28l27 -14zM641.6 1019.8v28l27 -14zM643.5 1016.8v28l27 -14zM643.1 1004.4v28l27 -14zM644.6 999.5v28l27 -14zM647.2 999.4v28l27 -14zM647.9 991.6v28l27 -14zM651 993.5v28l27 -14zM652.5 988.7v28l27 -14zM652.3 977.1v28l27 -14zM654.2 974.2v28l27 -14zM655.5 968.8v28l27 -14zM658.6 970.5v28l27 -14zM658 957.3v28l27 -14zM661.6 961.1v28l27 -14zM660.8 947.1v28l27 -14zM661.9 943.3v28l27 -14zM664.3 944.8v28l27 -14zM663.4 932.8v28l27 -14zM664.7 929.4v28l27 -14zM665.8 925.5v28l27 -14zM666.7 920.8v28l27 -14zM669.1 922.3v28l27 -14zM668 909.5v28l27 -14zM670.1 909.8v28l27 -14zM671.6 907.4v28l27 -14zM672.2 901.8v28l27 -14zM672.7 895.2v28l27 -14zM673.8 891.3v28l27 -14zM673 879.7v28l27 -14zM674.1 876v28l27 -14zM674.9 871v28l27 -14zM677.4 872.7v28l27 -14zM676.4 860.4v28l27 -14zM678.8 861.8v28l27 -14zM679.7 857.1v28l27 -14zM679.3 846.8v28l27 -14zM681.1 845.8v28l27 -14zM681.1 837.7v28l27 -14zM681.6 831.3v28l27 -14zM682.8 827.6v28l27 -14zM685 828.5v28l27 -14zM685.6 822.6v28l27 -14zM685.5 813.6v28l27 -14zM686.3 808.8v28l27 -14zM687.8 806.5v28l27 -14zM688.9 802.6v28l27 -14zM689.8 798v28l27 -14zM690.6 792.9v28l27 -14zM690.5 783.9v28l27 -14zM691.3 779.4v28l27 -14zM692 774.5v28l27 -14zM692.5 768.6v28l27 -14zM693.3 764.2v28l27 -14zM693.9 758.9v28l27 -14zM694.6 754v28l27 -14zM695.2 748.5v28l27 -14zM695.9 743.6v28l27 -14zM697.9 743.9v28l27 -14zM697.3 733.6v28l27 -14zM698.2 729.6v28l27 -14zM699.4 726.7v28l27 -14zM700.3 722.5v28l27 -14zM700.1 714v28l27 -14zM702 713.8v28l27 -14zM701.9 705.8v28l27 -14zM702 697.9v28l27 -14zM703.2 695.2v28l27 -14zM703.8 689.5v28l27 -14zM705.5 688.6v28l27 -14zM706 683v28l27 -14zM706.1 675.3v28l27 -14zM707.2 672v28l27 -14zM708.3 668.5v28l27 -14zM708.9 663v28l27 -14zM708.2 652.3v28l27 -14zM708.8 647.1v28l27 -14zM710.8 647.3v28l27 -14zM711.9 643.9v28l27 -14zM712.9 640v28l27 -14zM713.1 632.9v28l27 -14zM713 624.5v28l27 -14zM713.7 619.6v28l27 -14zM714.4 614.5v28l27 -14zM714.7 607.8v28l27 -14zM716.9 608.9v28l27 -14zM715.9 597.1v28l27 -14zM716.9 593.1v28l27 -14zM717.1 586.3v28l27 -14zM718.5 583.9v28l27 -14zM720.9 583.4v28l27 -14zM720.7 571.9v28l27 -14zM723.9 574.8v28l27 -14zM725.6 571.4v28l27 -14zM724.7 557v28l27 -14zM726.5 554.1v28l27 -14zM727.4 547.6v28l27 -14zM729.6 545.9v28l27 -14zM731.7 544.4v28l27 -14zM733.9 543v28l27 -14zM735.2 537.9v28l27 -14zM736.7 533.6v28l27 -14zM736 520.3v28l27 -14zM738.9 521.8v28l27 -14zM739.2 512.6v28l27 -14zM741.8 512.7v28l27 -14zM741.3 500.3v28l27 -14zM745.2 505.9v28l27 -14zM744.3 491.6v28l27 -14zM745.4 485.5v28l27 -14zM747.3 483.2v28l27 -14zM748.5 477.7v28l27 -14zM749.5 471.6v28l27 -14zM750.7 466.4v28l27 -14zM752.4 463.1v28l27 -14zM753.3 456.5v28l27 -14zM756.2 457.8v28l27 -14zM757.1 451.3v28l27 -14zM756.7 439.5v28l27 -14zM758.8 437.8v28l27 -14zM759.4 429.9v28l27 -14zM764.3 440.1v28l27 -14zM764.4 430.1v28l27 -14zM765.7 424.9v28l27 -14zM767.4 421.9v28l27 -14zM768.4 413.2v28l27 -14zM769.2 403.6v28l27 -14zM768.6 388.5v28l27 -14zM771.7 388.5v28l27 -14zM776.8 397.3v28l27 -14zM774.4 374.1v28l27 -14zM781.6 392.3v28l27 -14zM783.3 385.3v28l27 -14zM784.9 377.9v28l27 -14zM782.1 350.6v28l27 -14zM785.3 340.2v28l27 -14zM788.2 333.4v28l27 -14zM796.8 325v28l27 -14zM800 349.3v28l27 -14zM803.3 374.4v28l27 -14zM810 340.7v28l27 -14zM815.9 373.7v28l27 -14zM820.1 371.5v28l27 -14zM823.2 362.7v28l27 -14zM827.8 365.4v28l27 -14zM829.5 343v28l27 -14zM837.1 365.6v28l27 -14zM837.5 328.4v28l27 -14zM845.3 358.9v28l27 -14zM846.5 321.2v28l27 -14zM850.2 320.7v28l27 -14zM855.4 327.7v28l27 -14zM861 337.2v28l27 -14zM867.5 352.1v28l27 -14zM870.8 347.4v28l27 -14zM874.8 346.6v28l27 -14zM873.1 307.7v28l27 -14zM876.5 300.7v28l27 -14zM884.1 319.7v28l27 -14zM889.6 325.4v28l27 -14zM890.3 288v28l27 -14zM895.4 290.2v28l27 -14zM901.5 317.2v28l27 -14zM905.9 300.6v28l27 -14zM911.3 311.3v28l27 -14zM917 316.7v28l27 -14zM921.5 308.2v28l27 -14zM926.9 311.8v28l27 -14zM931.7 308.7v28l27 -14zM934.8 279.2v28l27 -14zM940.7 305.1v28l27 -14zM946.5 280.8v28l27 -14zM950.6 309.4v28l27 -14zM954.3 304.6v28l27 -14zM956.3 311.7v28l27 -14zM963 297.6v28l27 -14zM962.1 317.5v28l27 -14zM964.9 320.6v28l27 -14zM967.4 318v28l27 -14zM968.3 322.3v28l27 -14zM968.2 330.7v28l27 -14zM967.9 339.5v28l27 -14zM970.6 336.5v28l27 -14zM970.3 345.4v28l27 -14zM972.3 345.3v28l27 -14zM971.7 355.3v28l27 -14zM972.8 358.8v28l27 -14zM975 358.1v28l27 -14zM973.7 372.2v28l27 -14zM975.1 374.8v28l27 -14zM977.2 374.7v28l27 -14zM978.5 377.9v28l27 -14zM977.8 389.1v28l27 -14zM979.9 389v28l27 -14zM981.3 391.7v28l27 -14zM980.4 404.2v28l27 -14zM983 401.7v28l27 -14zM982.7 414v28l27 -14zM986.1 410.5v28l27 -14zM985.7 423.2v28l27 -14zM986.8 429.5v28l27 -14zM988.8 432v28l27 -14zM990 438.1v28l27 -14zM992.2 439.7v28l27 -14zM993.4 445.6v28l27 -14zM996.1 444.1v28l27 -14zM996.9 450.7v28l27 -14zM998.2 455.1v28l27 -14zM999.8 458.4v28l27 -14zM1000.6 465v28l27 -14zM1001 472.9v28l27 -14zM1001.9 479.3v28l27 -14zM1004.4 478.5v28l27 -14zM1005.4 484.3v28l27 -14zM1005.6 492.9v28l27 -14zM1006.1 499.7v28l27 -14zM1009.1 496.9v28l27 -14zM1009.7 503.5v28l27 -14zM1009.8 512.3v28l27 -14zM1010.8 517.2v28l27 -14zM1012.9 518.1v28l27 -14zM1014 522.5v28l27 -14zM1013.9 532.1v28l27 -14zM1014.8 537.8v28l27 -14zM1016.7 539.3v28l27 -14zM1016.9 547.6v28l27 -14zM1019.5 546.2v28l27 -14zM1018.9 557.8v28l27 -14zM1020.3 561.1v28l27 -14zM1022.7 560.3v28l27 -14zM1021.7 573.7v28l27 -14zM1024.3 572.3v28l27 -14zM1025.7 575.8v28l27 -14zM1026.1 583.2v28l27 -14zM1027.3 587.6v28l27 -14zM1028.6 591.4v28l27 -14zM1028.5 601.1v28l27 -14zM1029.3 607v28l27 -14zM1031.4 607.7v28l27 -14zM1031.8 615v28l27 -14zM1032.1 622.8v28l27 -14zM1034.7 621.7v28l27 -14zM1034.6 631v28l27 -14zM1035.5 636.8v28l27 -14zM1036.8 640.5v28l27 -14zM1039.3 639.7v28l27 -14zM1038.4 652.4v28l27 -14zM1039.6 656.7v28l27 -14zM1041.2 659.4v28l27 -14zM1043.2 660.4v28l27 -14zM1043.5 668.3v28l27 -14zM1044.2 674.7v28l27 -14zM1046.1 676v28l27 -14zM1047.7 678.7v28l27 -14zM1047.1 690.1v28l27 -14zM1048.3 694.4v28l27 -14zM1049.5 698.9v28l27 -14zM1049.8 706.6v28l27 -14zM1052.1 706.5v28l27 -14zM1054.1 707.3v28l27 -14zM1054.1 720.7v28l27 -14zM1057.8 717.6v28l27 -14zM1057.9 730.7v28l27 -14zM1061.3 729.1v28l27 -14zM1064.1 730v28l27 -14zM1063.7 745v28l27 -14zM1068.2 738.7v28l27 -14zM1070.2 743.3v28l27 -14zM1070.2 756.4v28l27 -14zM1074.3 751.9v28l27 -14zM1075.5 760.1v28l27 -14zM1076.2 770.5v28l27 -14zM1080.2 766v28l27 -14zM1082.4 769.7v28l27 -14zM1082.2 786.2v28l27 -14zM1084.8 790.3v28l27 -14zM1090.4 780.3v28l27 -14zM1091.6 790.7v28l27 -14zM1095.3 789.6v28l27 -14zM1097.3 796.5v28l27 -14zM1099.6 801.6v28l27 -14zM1101.5 808.9v28l27 -14zM1105.4 806.7v28l27 -14zM1104.5 827v28l27 -14zM1110 817.5v28l27 -14zM1109.3 836.8v28l27 -14zM1115.6 823.7v28l27 -14zM1119.1 822.7v28l27 -14zM1120.8 830.1v28l27 -14zM1121.2 842.6v28l27 -14zM1120.8 859.3v28l27 -14zM1122.6 865.6v28l27 -14zM1130 847.5v28l27 -14zM1127.8 871.7v28l27 -14zM1130.2 875.6v28l27 -14zM1136.4 862.6v28l27 -14zM1135.5 881.2v28l27 -14zM1141 871.4v28l27 -14zM1139.4 893.5v28l27 -14zM1144.7 885v28l27 -14zM1144.9 900.5v28l27 -14zM1146.8 908.1v28l27 -14zM1152.1 899.9v28l27 -14zM1154.3 906v28l27 -14zM1155.2 918.4v28l27 -14zM1159.3 915.7v28l27 -14zM1159.6 930.7v28l27 -14zM1162.8 932.2v28l27 -14zM1165.3 936.9v28l27 -14zM1170.3 930v28l27 -14zM1170.7 945v28l27 -14zM1175.5 939.7v28l27 -14zM1176.6 951.5v28l27 -14zM1181.2 947.1v28l27 -14zM1184 950.7v28l27 -14zM1187.3 952.3v28l27 -14zM1189.9 957.2v28l27 -14zM1192.2 963.6v28l27 -14zM1194.8 968.6v28l27 -14zM1194.7 986.3v28l27 -14zM1198.1 987.3v28l27 -14zM1203.4 980v28l27 -14zM1206.8 978.8v28l27 -14zM1205 1001v28l27 -14zM1210.8 989.7v28l27 -14zM1213.4 992.1v28l27 -14zM1214.6 1001.3v28l27 -14zM1218.3 999.1v28l27 -14zM1213.9 1032.9v28l27 -14zM1215.9 1038.3v28l27 -14zM1220.1 1033.7v28l27 -14zM1225.2 1025.1v28l27 -14zM1228.9 1022.7v28l27 -14zM1230.7 1030.5v28l27 -14zM1228.4 1056.4v28l27 -14zM1234.5 1044.6v28l27 -14zM1237.3 1047.5v28l27 -14zM1241 1046.5v28l27 -14zM1236.8 1081.2v28l27 -14zM1247.5 1048.1v28l27 -14zM1248.3 1060.1v28l27 -14zM1251.1 1063.1v28l27 -14zM1254.5 1063.3v28l27 -14zM1250.1 1101.2v28l27 -14zM1259.9 1070.3v28l27 -14zM1262.3 1077.8v28l27 -14zM1261.3 1102.7v28l27 -14zM1269.4 1080.5v28l27 -14zM1271.8 1088v28l27 -14zM1273.5 1099.3v28l27 -14zM1275.5 1108.5v28l27 -14zM1279.5 1108v28l27 -14zM1281.3 1115v28l27 -14zM1284.8 1140.5v28l27 -14zM1290.1 1136.1v28l27 -14zM1296 1124.1v28l27 -14zM1300.5 1133.2v28l27 -14zM1307 1110.5v28l27 -14zM1310.8 1132.9v28l27 -14zM1316.8 1113.4v28l27 -14zM1321.4 1121.8v28l27 -14zM1326.5 1121.7v28l27 -14zM1330.4 1144.1v28l27 -14zM1336.2 1127.9v28l27 -14zM1341.2 1128v28l27 -14zM1345.8 1141.3v28l27 -14zM1350.9 1139.7v28l27 -14zM1355.9 1138.1v28l27 -14zM1360.8 1144.1v28l27 -14zM1365.9 1141.3v28l27 -14zM1370.8 1145.5v28l27 -14zM1375.5 1141.3v28l27 -14zM1380.3 1134v28l27 -14zM1384.7 1145.2v28l27 -14zM1389.5 1134v28l27 -14zM1394 1138.9v28l27 -14zM1196 1016v28l27 -14zM1198 1031v28l27 -14zM1197 1040v28l27 -14zM1203 1026v28l27 -14zM1206 1042v28l27 -14zM1213 1050v28l27 -14zM1221 1056v28l27 -14zM1231 1062v28l27 -14zM1210 1036v28l27 -14zM1107 870v28l27 -14zM1110 878v28l27 -14zM1115 866v28l27 -14zM791 326v28l27 -14zM788 332v28l27 -14zM795 329v28l27 -14zM944 277v28l27 -14zM940 281v28l27 -14zM949 280v28l27 -14zM1544 1066v28l27 -14zM1547 1076v28l27 -14zM1542 1085v28l27 -14zM1540 1060v28l27 -14zM1537 1122v28l27 -14z" fill="#ff0"/>
<path d="M1296 225.5h24v22h-24z" fill="#000"/>
<text class="b" x="1356.3" y="271.7" font-size="73">D1</text>
<path d="M1296 338.3a12 12 0 1 0 24 0a12 12 0 1 0 -24 0z" fill="#f00"/>
<text class="b" x="1356.3" y="373.9" font-size="73">D2</text>
<path d="M1293 449h30l-15 -26z" fill="#0f0"/>
<text class="b" x="1356.3" y="476.1" font-size="73">D3</text>
<path d="M1293 534.3h30l-15 26z" fill="#00f"/>
<text class="b" x="1356.3" y="578.3" font-size="73">D4</text>
<path d="M1293 647l15 -16l15 16l-15 16z" fill="#0ff"/>
<text class="b" x="1356.3" y="680.5" font-size="73">D5</text>
<path d="M1318.7 734.6v30l-26 -15z" fill="#f0f"/>
<text class="b" x="1356.3" y="782.7" font-size="73">D6</text>
<path d="M1298 838v28l27 -14z" fill="#ff0"/>
<text class="b" x="1356.3" y="884.9" font-size="73">D7</text>
</g>
<rect x="2049.0" y="59.0" width="1494.0" height="1100.0" fill="none" stroke="#000" stroke-width="5"/>
<path d="M2186.5 1159.0v-11M2186.5 59.0v10M2322.2 1159.0v-22M2322.2 59.0v23M2457.9 1159.0v-11M2457.9 59.0v10M2593.6 1159.0v-22M2593.6 59.0v23M2729.3 1159.0v-11M2729.3 59.0v10M2865 1159.0v-22M2865 59.0v23M3000.7 1159.0v-11M3000.7 59.0v10M3136.4 1159.0v-22M3136.4 59.0v23M3272.1 1159.0v-11M3272.1 59.0v10M3407.8 1159.0v-22M3407.8 59.0v23M2049.0 1049h11M3543.0 1049h-11M2049.0 939h22M3543.0 939h-22M2049.0 829h11M3543.0 829h-11M2049.0 719h22M3543.0 719h-22M2049.0 609h11M3543.0 609h-11M2049.0 499h22M3543.0 499h-22M2049.0 389h11M3543.0 389h-11M2049.0 279h22M3543.0 279h-22M2049.0 169h11M3543.0 169h-11" stroke="#000" stroke-width="4.3" fill="none"/>
<text x="2021.7" y="1229" font-size="55" text-anchor="middle">0</text>
<text x="2294.4" y="1229" font-size="55" text-anchor="middle">2</text>
<text x="2564.6" y="1229" font-size="55" text-anchor="middle">4</text>
<text x="2837.7" y="1229" font-size="55" text-anchor="middle">6</text>
<text x="3110" y="1229" font-size="55" text-anchor="middle">8</text>
<text x="3383.7" y="1229" font-size="55" text-anchor="middle">10</text>
<text x="2022" y="1177.5" font-size="55" text-anchor="end">0.0</text>
<text x="2022" y="957.5" font-size="55" text-anchor="end">0.2</text>
<text x="2022" y="737.5" font-size="55" text-anchor="end">0.4</text>
<text x="2022" y="517.5" font-size="55" text-anchor="end">0.6</text>
<text x="2022" y="297.5" font-size="55" text-anchor="end">0.8</text>
<text x="2022" y="77.5" font-size="55" text-anchor="end">1.0</text>
<text x="2794.6" y="1331.7" font-size="68" text-anchor="middle" textLength="329" lengthAdjust="spacingAndGlyphs">voltage [V]</text>
<text transform="translate(1917,610) rotate(-90)" font-size="68" text-anchor="middle" textLength="488" lengthAdjust="spacingAndGlyphs">brightness [a.u.]</text>
<text class="s" transform="translate(2121,179) scale(1.085,1)" font-size="88">b)</text>
<path d="M2062.7 1147.5h24v22h-24zM2171.6 1147.5h24v22h-24zM2280.4 1147.5h24v22h-24zM2307.6 1147.5h24v22h-24zM2334.8 1147.5h24v22h-24zM2362 1147.5h24v22h-24zM2389.2 1147.5h24v22h-24zM2416.4 1147.5h24v22h-24zM2443.7 1147.5h24v22h-24zM2552.5 1147.5h24v22h-24zM2606.9 1147.5h24v22h-24zM2634.1 1147.5h24v22h-24zM2688.5 1147.5h24v22h-24zM2715.8 1147.5h24v22h-24zM2743 1147.5h24v22h-24zM2770.2 1147.5h24v22h-24zM2797.4 1147.5h24v22h-24zM2824.6 1147h24v22h-24zM2851.8 1145h24v22h-24zM2879 1143h24v22h-24zM2906.2 1142h24v22h-24zM2933.4 1139h24v22h-24zM2960.6 1137h24v22h-24zM2987.8 1132h24v22h-24zM3015.1 1124.6h24v22h-24zM3042.3 1109h24v22h-24zM3069.5 1088h24v22h-24zM3096.7 1063.5h24v22h-24zM3123.9 1035h24v22h-24zM3151.1 1001h24v22h-24zM3178.3 957.6h24v22h-24zM3205.5 902.4h24v22h-24zM3232.7 836h24v22h-24zM3259.9 757.8h24v22h-24zM3287.2 665h24v22h-24zM3314.4 553h24v22h-24zM3341.6 427.2h24v22h-24zM3368.8 280h24v22h-24zM3396 108.5h24v22h-24z" fill="#000"/>
<path d="M2035.5 1139.4a12 12 0 1 0 24 0a12 12 0 1 0 -24 0zM2062.7 1143.3a12 12 0 1 0 24 0a12 12 0 1 0 -24 0zM2089.9 1151a12 12 0 1 0 24 0a12 12 0 1 0 -24 0zM2117.1 1149.5a12 12 0 1 0 24 0a12 12 0 1 0 -24 0zM2144.3 1145.6a12 12 0 1 0 24 0a12 12 0 1 0 -24 0zM2171.6 1142.5a12 12 0 1 0 24 0a12 12 0 1 0 -24 0zM2198.8 1150a12 12 0 1 0 24 0a12 12 0 1 0 -24 0zM2226 1151.8a12 12 0 1 0 24 0a12 12 0 1 0 -24 0zM2253.2 1150a12 12 0 1 0 24 0a12 12 0 1 0 -24 0zM2280.4 1153a12 12 0 1 0 24 0a12 12 0 1 0 -24 0zM2307.6 1148a12 12 0 1 0 24 0a12 12 0 1 0 -24 0zM2334.8 1154a12 12 0 1 0 24 0a12 12 0 1 0 -24 0zM2362 1151a12 12 0 1 0 24 0a12 12 0 1 0 -24 0zM2389.2 1147a12 12 0 1 0 24 0a12 12 0 1 0 -24 0zM2416.4 1152a12 12 0 1 0 24 0a12 12 0 1 0 -24 0zM2443.7 1144a12 12 0 1 0 24 0a12 12 0 1 0 -24 0zM2470.9 1150a12 12 0 1 0 24 0a12 12 0 1 0 -24 0zM2498.1 1154a12 12 0 1 0 24 0a12 12 0 1 0 -24 0zM2525.3 1147a12 12 0 1 0 24 0a12 12 0 1 0 -24 0zM2552.5 1142a12 12 0 1 0 24 0a12 12 0 1 0 -24 0zM2579.7 1150a12 12 0 1 0 24 0a12 12 0 1 0 -24 0zM2606.9 1140a12 12 0 1 0 24 0a12 12 0 1 0 -24 0zM2634.1 1138a12 12 0 1 0 24 0a12 12 0 1 0 -24 0zM2661.3 1144a12 12 0 1 0 24 0a12 12 0 1 0 -24 0zM2688.5 1142a12 12 0 1 0 24 0a12 12 0 1 0 -24 0zM2715.8 1150a12 12 0 1 0 24 0a12 12 0 1 0 -24 0zM2743 1144a12 12 0 1 0 24 0a12 12 0 1 0 -24 0zM2770.2 1147a12 12 0 1 0 24 0a12 12 0 1 0 -24 0zM2797.4 1144a12 12 0 1 0 24 0a12 12 0 1 0 -24 0zM2824.6 1136a12 12 0 1 0 24 0a12 12 0 1 0 -24 0zM2851.8 1134a12 12 0 1 0 24 0a12 12 0 1 0 -24 0zM2879 1134a12 12 0 1 0 24 0a12 12 0 1 0 -24 0zM2906.2 1132a12 12 0 1 0 24 0a12 12 0 1 0 -24 0zM2933.4 1133a12 12 0 1 0 24 0a12 12 0 1 0 -24 0zM2960.6 1128a12 12 0 1 0 24 0a12 12 0 1 0 -24 0zM2987.8 1128a12 12 0 1 0 24 0a12 12 0 1 0 -24 0zM3015.1 1141a12 12 0 1 0 24 0a12 12 0 1 0 -24 0zM3042.3 1106a12 12 0 1 0 24 0a12 12 0 1 0 -24 0zM3069.5 1103a12 12 0 1 0 24 0a12 12 0 1 0 -24 0zM3096.7 1101a12 12 0 1 0 24 0a12 12 0 1 0 -24 0zM3123.9 1097.5a12 12 0 1 0 24 0a12 12 0 1 0 -24 0zM3151.1 1085a12 12 0 1 0 24 0a12 12 0 1 0 -24 0zM3178.3 1060a12 12 0 1 0 24 0a12 12 0 1 0 -24 0zM3205.5 1042.7a12 12 0 1 0 24 0a12 12 0 1 0 -24 0zM3232.7 988.3a12 12 0 1 0 24 0a12 12 0 1 0 -24 0zM3259.9 939.4a12 12 0 1 0 24 0a12 12 0 1 0 -24 0zM3287.2 854.2a12 12 0 1 0 24 0a12 12 0 1 0 -24 0zM3314.4 740.9a12 12 0 1 0 24 0a12 12 0 1 0 -24 0zM3341.6 675.4a12 12 0 1 0 24 0a12 12 0 1 0 -24 0zM3368.8 523.8a12 12 0 1 0 24 0a12 12 0 1 0 -24 0zM3396 347.6a12 12 0 1 0 24 0a12 12 0 1 0 -24 0z" fill="#f00"/>
<path d="M2032.5 1107.7h30l-15 -26zM2086.9 1101.7h30l-15 -26zM2141.3 1126.7h30l-15 -26zM2168.6 1152.7h30l-15 -26zM2195.8 1149.7h30l-15 -26zM2223 1137.7h30l-15 -26zM2250.2 1156.7h30l-15 -26zM2277.4 1154.7h30l-15 -26zM2304.6 1158.7h30l-15 -26zM2331.8 1155.7h30l-15 -26zM2359 1160.7h30l-15 -26zM2386.2 1157.7h30l-15 -26zM2413.4 1158.7h30l-15 -26zM2440.7 1158.7h30l-15 -26zM2467.9 1159.7h30l-15 -26zM2495.1 1169.7h30l-15 -26zM2522.3 1157.7h30l-15 -26zM2549.5 1150.7h30l-15 -26zM2576.7 1158.7h30l-15 -26zM2603.9 1156.7h30l-15 -26zM2631.1 1160.7h30l-15 -26zM2658.3 1158.7h30l-15 -26zM2685.5 1157.7h30l-15 -26zM2712.8 1160.7h30l-15 -26zM2740 1156.7h30l-15 -26zM2767.2 1158.7h30l-15 -26zM2794.4 1154.7h30l-15 -26zM2821.6 1152.7h30l-15 -26zM2848.8 1142.7h30l-15 -26zM2876 1148.7h30l-15 -26zM2903.2 1128.7h30l-15 -26zM2930.4 1138.7h30l-15 -26zM2957.6 1139.4h30l-15 -26zM2984.8 1139.2h30l-15 -26zM3012.1 1123.7h30l-15 -26zM3039.3 1147.7h30l-15 -26zM3066.5 1134.2h30l-15 -26zM3093.7 1134.2h30l-15 -26zM3120.9 1082.3h30l-15 -26zM3148.1 1074h30l-15 -26zM3175.3 1079.7h30l-15 -26zM3202.5 1063.5h30l-15 -26zM3229.7 1024.7h30l-15 -26zM3256.9 970.1h30l-15 -26zM3284.2 893.7h30l-15 -26zM3311.4 812.2h30l-15 -26zM3338.6 702.4h30l-15 -26zM3365.8 596.4h30l-15 -26zM3393 372h30l-15 -26z" fill="#0f0"/>
<path d="M2114.1 1127.3h30l-15 26zM2141.3 1129.3h30l-15 26zM2168.6 1127.3h30l-15 26zM2195.8 1110.3h30l-15 26zM2223 1090.8h30l-15 26zM2250.2 1141.3h30l-15 26zM2277.4 1131.3h30l-15 26zM2304.6 1110.3h30l-15 26zM2331.8 1129.3h30l-15 26zM2359 1123.9h30l-15 26zM2386.2 1129.3h30l-15 26zM2413.4 1115.9h30l-15 26zM2440.7 1123.9h30l-15 26zM2467.9 1123.9h30l-15 26zM2495.1 1126.3h30l-15 26zM2522.3 1099h30l-15 26zM2549.5 1110.7h30l-15 26zM2576.7 1110.7h30l-15 26zM2603.9 1110.7h30l-15 26zM2631.1 1126.3h30l-15 26zM2658.3 1118.3h30l-15 26zM2685.5 1123.9h30l-15 26zM2712.8 1126.3h30l-15 26zM2740 1115.8h30l-15 26zM2767.2 1123.9h30l-15 26zM2794.4 1120.3h30l-15 26zM2821.6 1108.3h30l-15 26zM2848.8 1096.3h30l-15 26zM2876 1099.3h30l-15 26zM2903.2 1080.3h30l-15 26zM2930.4 1096.3h30l-15 26zM2957.6 1099.8h30l-15 26zM2984.8 1099.8h30l-15 26zM3012.1 1083.3h30l-15 26zM3039.3 1107.9h30l-15 26zM3066.5 1094.1h30l-15 26zM3093.7 1094.1h30l-15 26zM3120.9 1042.7h30l-15 26zM3148.1 1034h30l-15 26zM3175.3 1042.7h30l-15 26zM3202.5 1025.9h30l-15 26zM3229.7 985.1h30l-15 26zM3256.9 930.4h30l-15 26zM3284.2 854h30l-15 26zM3311.4 771.9h30l-15 26zM3338.6 662.8h30l-15 26zM3365.8 556.3h30l-15 26zM3393 332h30l-15 26z" fill="#00f"/>
<path d="M2114.1 1139l15 -16l15 16l-15 16zM2141.3 1142.5l15 -16l15 16l-15 16zM2168.6 1141l15 -16l15 16l-15 16zM2195.8 1151.8l15 -16l15 16l-15 16zM2223 1139l15 -16l15 16l-15 16zM2250.2 1148.7l15 -16l15 16l-15 16zM2277.4 1142l15 -16l15 16l-15 16zM2304.6 1142l15 -16l15 16l-15 16zM2331.8 1145l15 -16l15 16l-15 16zM2359 1148l15 -16l15 16l-15 16zM2386.2 1151.8l15 -16l15 16l-15 16zM2413.4 1145l15 -16l15 16l-15 16zM2440.7 1148l15 -16l15 16l-15 16zM2467.9 1147l15 -16l15 16l-15 16zM2495.1 1148.7l15 -16l15 16l-15 16zM2522.3 1145l15 -16l15 16l-15 16zM2549.5 1148l15 -16l15 16l-15 16zM2576.7 1148.7l15 -16l15 16l-15 16zM2603.9 1141l15 -16l15 16l-15 16zM2631.1 1158l15 -16l15 16l-15 16zM2658.3 1151.8l15 -16l15 16l-15 16zM2685.5 1151.8l15 -16l15 16l-15 16zM2712.8 1148l15 -16l15 16l-15 16zM2740 1150l15 -16l15 16l-15 16zM2767.2 1148l15 -16l15 16l-15 16zM2794.4 1145.6l15 -16l15 16l-15 16zM2821.6 1136.3l15 -16l15 16l-15 16zM2848.8 1145l15 -16l15 16l-15 16zM2876 1140l15 -16l15 16l-15 16zM2903.2 1092.8l15 -16l15 16l-15 16zM2957.6 1026.4l15 -16l15 16l-15 16zM2984.8 1022.7l15 -16l15 16l-15 16zM3012.1 1004.4l15 -16l15 16l-15 16zM3039.3 927.2l15 -16l15 16l-15 16zM3066.5 915.4l15 -16l15 16l-15 16zM3093.7 807.7l15 -16l15 16l-15 16zM3120.9 844.5l15 -16l15 16l-15 16zM3148.1 787.6l15 -16l15 16l-15 16zM3175.3 711.4l15 -16l15 16l-15 16zM3202.5 757.7l15 -16l15 16l-15 16zM3229.7 651.3l15 -16l15 16l-15 16zM3256.9 521.3l15 -16l15 16l-15 16zM3284.2 430.3l15 -16l15 16l-15 16zM3311.4 292l15 -16l15 16l-15 16zM3338.6 137.7l15 -16l15 16l-15 16z" fill="#0ff"/>
<path d="M2137.8 1111.8v30l-26 -15zM2165 1115.8v30l-26 -15zM2192.2 1111v30l-26 -15zM2219.4 1122.8v30l-26 -15zM2246.6 1112.7v30l-26 -15zM2273.8 1118.5v30l-26 -15zM2301.1 1122.8v30l-26 -15zM2328.3 1120.8v30l-26 -15zM2355.5 1122.8v30l-26 -15zM2382.7 1125v30l-26 -15zM2409.9 1122.8v30l-26 -15zM2437.1 1116.6v30l-26 -15zM2464.3 1122.8v30l-26 -15zM2491.5 1099.5v30l-26 -15zM2518.7 1119.7v30l-26 -15zM2545.9 1118v30l-26 -15zM2573.2 1110v30l-26 -15zM2600.4 1115.8v30l-26 -15zM2627.6 1133.7v30l-26 -15zM2654.8 1126v30l-26 -15zM2682 1101.9v30l-26 -15zM2709.2 1120v30l-26 -15zM2736.4 1114.6v30l-26 -15zM2763.6 1124v30l-26 -15zM2790.8 1103.7v30l-26 -15zM2818 1112.7v30l-26 -15zM2845.3 1091v30l-26 -15zM2872.5 1094v30l-26 -15zM2899.7 1097.2v30l-26 -15zM2926.9 1090.5v30l-26 -15zM2954.1 1121.3v30l-26 -15zM2981.3 1044.4v30l-26 -15zM3008.5 1039v30l-26 -15zM3035.7 1032.7v30l-26 -15zM3062.9 981.4v30l-26 -15zM3090.1 972v30l-26 -15zM3117.4 902.9v30l-26 -15zM3144.6 924.7v30l-26 -15zM3171.8 889.1v30l-26 -15zM3199 840v30l-26 -15zM3226.2 868.8v30l-26 -15zM3253.4 799.3v30l-26 -15zM3280.6 715.5v30l-26 -15zM3307.8 656.8v30l-26 -15zM3335 566.8v30l-26 -15zM3362.2 466.3v30l-26 -15zM3389.5 370.4v30l-26 -15zM3416.7 217.4v30l-26 -15z" fill="#f0f"/>
<path d="M2065.7 1146v28l27 -14zM2174.6 1145v28l27 -14zM2283.4 1147v28l27 -14zM2310.6 1146v28l27 -14zM2337.8 1145v28l27 -14zM2365 1132.8v28l27 -14zM2392.2 1145v28l27 -14zM2419.4 1144v28l27 -14zM2446.7 1145.6v28l27 -14zM2555.5 1143.5v28l27 -14zM2609.9 1143.5v28l27 -14zM2718.8 1141v28l27 -14zM2746 1141v28l27 -14zM2773.2 1143.5v28l27 -14zM2800.4 1143.5v28l27 -14zM2827.6 1138.6v28l27 -14zM2854.8 1132.4v28l27 -14zM2882 1124.6v28l27 -14zM2909.2 1121.5v28l27 -14zM2936.4 1106v28l27 -14zM2963.6 1095v28l27 -14zM2990.8 1057.8v28l27 -14zM3018.1 1017.5v28l27 -14zM3045.3 974v28l27 -14zM3072.5 902.4v28l27 -14zM3099.7 809.5v28l27 -14zM3126.9 693.7v28l27 -14zM3154.1 552.4v28l27 -14zM3181.3 385v28l27 -14zM3208.5 159.7v28l27 -14z" fill="#ff0"/>
<path d="M2516.9 334.5h31.2v24.6h-31.2z" fill="#000"/>
<text class="b" transform="translate(2633,358.4) scale(1.11,1)" font-size="74">D1</text>
<path d="M2516.4 440.9a15.6 13.4 0 1 0 31.2 0a15.6 13.4 0 1 0 -31.2 0z" fill="#f00"/>
<text class="b" transform="translate(2633,458.1) scale(1.11,1)" font-size="74">D2</text>
<path d="M2513.3 544.7h39l-19.5 -29.1z" fill="#0f0"/>
<text class="b" transform="translate(2633,557.8) scale(1.11,1)" font-size="74">D3</text>
<path d="M2513.8 619.8h39l-19.5 29.1z" fill="#00f"/>
<text class="b" transform="translate(2633,657.5) scale(1.11,1)" font-size="74">D4</text>
<path d="M2513 723.5l19.5 -17.9l19.5 17.9l-19.5 17.9z" fill="#0ff"/>
<text class="b" transform="translate(2633,757.2) scale(1.11,1)" font-size="74">D5</text>
<path d="M2545.3 801.2v33.6l-33.8 -16.8z" fill="#f0f"/>
<text class="b" transform="translate(2633,856.9) scale(1.11,1)" font-size="74">D6</text>
<path d="M2519.6 897.1v31.4l35.1 -15.7z" fill="#ff0"/>
<text class="b" transform="translate(2633,956.6) scale(1.11,1)" font-size="74">D7</text>
</svg></body></html>
